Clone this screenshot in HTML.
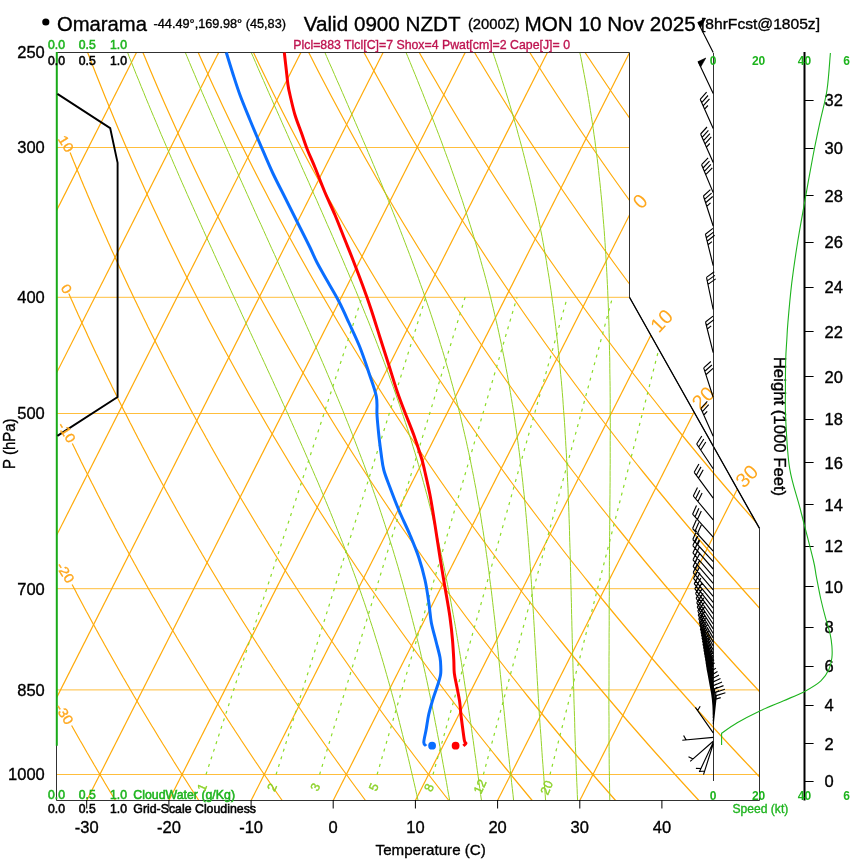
<!DOCTYPE html>
<html><head><meta charset="utf-8"><title>Omarama sounding</title>
<style>
html,body{margin:0;padding:0;background:#fff}
body{width:850px;height:860px;overflow:hidden;font-family:"Liberation Sans",sans-serif}
svg{display:block}
text{font-family:"Liberation Sans",sans-serif;stroke-width:0.35px}
.k{stroke:#000}
.ib{stroke:#ffbe3c;stroke-width:1;fill:none}
.it{stroke:#ffab0a;stroke-width:1.2;fill:none}
.da{stroke:#ffab0a;stroke-width:1.2;fill:none}
.ma{stroke:#96d228;stroke-width:1;fill:none}
.mr{stroke:#8cdc28;stroke-width:1.2;fill:none;stroke-dasharray:3 5}
</style></head><body>
<svg width="850" height="860" viewBox="0 0 850 860">
<defs><clipPath id="cp"><path d="M56.5 52.5 L629.5 52.5 L629.5 297.3 L759.5 528.4 L759.5 800.5 L56.5 800.5Z"/></clipPath></defs>
<rect width="850" height="860" fill="#fff"/>
<g clip-path="url(#cp)">
<line x1="56.5" y1="774.5" x2="759.5" y2="774.5" class="ib"/>
<line x1="56.5" y1="689.9" x2="759.5" y2="689.9" class="ib"/>
<line x1="56.5" y1="588.7" x2="759.5" y2="588.7" class="ib"/>
<line x1="56.5" y1="413.5" x2="694.9" y2="413.5" class="ib"/>
<line x1="56.5" y1="297.3" x2="629.5" y2="297.3" class="ib"/>
<line x1="56.5" y1="147.5" x2="629.5" y2="147.5" class="ib"/>
<line x1="-652.8" y1="800.5" x2="-274.3" y2="52.5" class="it"/>
<line x1="-570.6" y1="800.5" x2="-192.1" y2="52.5" class="it"/>
<line x1="-488.5" y1="800.5" x2="-110.0" y2="52.5" class="it"/>
<line x1="-406.3" y1="800.5" x2="-27.8" y2="52.5" class="it"/>
<line x1="-324.1" y1="800.5" x2="54.4" y2="52.5" class="it"/>
<line x1="-241.9" y1="800.5" x2="136.5" y2="52.5" class="it"/>
<line x1="-159.8" y1="800.5" x2="218.7" y2="52.5" class="it"/>
<line x1="-77.6" y1="800.5" x2="300.9" y2="52.5" class="it"/>
<line x1="4.6" y1="800.5" x2="383.1" y2="52.5" class="it"/>
<line x1="86.7" y1="800.5" x2="465.2" y2="52.5" class="it"/>
<line x1="168.9" y1="800.5" x2="547.4" y2="52.5" class="it"/>
<line x1="251.1" y1="800.5" x2="629.6" y2="52.5" class="it"/>
<line x1="333.2" y1="800.5" x2="711.7" y2="52.5" class="it"/>
<line x1="415.4" y1="800.5" x2="793.9" y2="52.5" class="it"/>
<line x1="497.6" y1="800.5" x2="876.1" y2="52.5" class="it"/>
<line x1="579.8" y1="800.5" x2="958.2" y2="52.5" class="it"/>
<path d="M115.5 800.5 L113.7 797.5 L111.8 794.5 L110.0 791.5 L108.2 788.5 L106.4 785.5 L104.6 782.5 L102.9 779.5 L101.1 776.5 L99.3 773.5 L97.5 770.5 L95.8 767.5 L94.0 764.5 L92.3 761.5 L90.5 758.5 L88.8 755.5 L87.0 752.5 L85.3 749.5 L83.6 746.5 L81.9 743.5 L80.1 740.5 L78.4 737.5 L76.7 734.5 L75.0 731.5 L73.3 728.5 L71.6 725.5" class="da"/>
<path d="M198.8 800.5 L196.9 797.5 L194.9 794.5 L193.0 791.5 L191.0 788.5 L189.1 785.5 L187.2 782.5 L185.3 779.5 L183.3 776.5 L181.4 773.5 L179.5 770.5 L177.6 767.5 L175.7 764.5 L173.8 761.5 L172.0 758.5 L170.1 755.5 L168.2 752.5 L166.4 749.5 L164.5 746.5 L162.6 743.5 L160.8 740.5 L158.9 737.5 L157.1 734.5 L155.3 731.5 L153.5 728.5 L151.6 725.5 L149.8 722.5 L148.0 719.5 L146.2 716.5 L144.4 713.5 L142.6 710.5 L140.8 707.5 L139.0 704.5 L137.3 701.5 L135.5 698.5 L133.7 695.5 L132.0 692.5 L130.2 689.5 L128.5 686.5 L126.7 683.5 L125.0 680.5 L123.2 677.5 L121.5 674.5 L119.8 671.5 L118.1 668.5 L116.4 665.5 L114.7 662.5 L113.0 659.5 L111.3 656.5 L109.6 653.5 L107.9 650.5 L106.2 647.5 L104.5 644.5 L102.9 641.5 L101.2 638.5 L99.5 635.5 L97.9 632.5 L96.2 629.5 L94.6 626.5 L92.9 623.5 L91.3 620.5 L89.7 617.5 L88.1 614.5 L86.4 611.5 L84.8 608.5 L83.2 605.5 L81.6 602.5 L80.0 599.5 L78.4 596.5 L76.8 593.5 L75.3 590.5 L73.7 587.5 L72.1 584.5" class="da"/>
<path d="M282.2 800.5 L280.1 797.5 L278.0 794.5 L275.9 791.5 L273.8 788.5 L271.8 785.5 L269.7 782.5 L267.7 779.5 L265.6 776.5 L263.6 773.5 L261.5 770.5 L259.5 767.5 L257.5 764.5 L255.4 761.5 L253.4 758.5 L251.4 755.5 L249.4 752.5 L247.4 749.5 L245.4 746.5 L243.4 743.5 L241.4 740.5 L239.5 737.5 L237.5 734.5 L235.5 731.5 L233.6 728.5 L231.6 725.5 L229.7 722.5 L227.7 719.5 L225.8 716.5 L223.9 713.5 L221.9 710.5 L220.0 707.5 L218.1 704.5 L216.2 701.5 L214.3 698.5 L212.4 695.5 L210.5 692.5 L208.6 689.5 L206.8 686.5 L204.9 683.5 L203.0 680.5 L201.2 677.5 L199.3 674.5 L197.4 671.5 L195.6 668.5 L193.8 665.5 L191.9 662.5 L190.1 659.5 L188.3 656.5 L186.5 653.5 L184.6 650.5 L182.8 647.5 L181.0 644.5 L179.2 641.5 L177.4 638.5 L175.7 635.5 L173.9 632.5 L172.1 629.5 L170.3 626.5 L168.6 623.5 L166.8 620.5 L165.1 617.5 L163.3 614.5 L161.6 611.5 L159.8 608.5 L158.1 605.5 L156.4 602.5 L154.7 599.5 L152.9 596.5 L151.2 593.5 L149.5 590.5 L147.8 587.5 L146.1 584.5 L144.5 581.5 L142.8 578.5 L141.1 575.5 L139.4 572.5 L137.7 569.5 L136.1 566.5 L134.4 563.5 L132.8 560.5 L131.1 557.5 L129.5 554.5 L127.9 551.5 L126.2 548.5 L124.6 545.5 L123.0 542.5 L121.4 539.5 L119.7 536.5 L118.1 533.5 L116.5 530.5 L114.9 527.5 L113.4 524.5 L111.8 521.5 L110.2 518.5 L108.6 515.5 L107.1 512.5 L105.5 509.5 L103.9 506.5 L102.4 503.5 L100.8 500.5 L99.3 497.5 L97.7 494.5 L96.2 491.5 L94.7 488.5 L93.2 485.5 L91.6 482.5 L90.1 479.5 L88.6 476.5 L87.1 473.5 L85.6 470.5 L84.1 467.5 L82.6 464.5 L81.1 461.5 L79.7 458.5 L78.2 455.5 L76.7 452.5 L75.3 449.5 L73.8 446.5 L72.3 443.5" class="da"/>
<path d="M365.5 800.5 L363.3 797.5 L361.1 794.5 L358.9 791.5 L356.6 788.5 L354.4 785.5 L352.2 782.5 L350.0 779.5 L347.9 776.5 L345.7 773.5 L343.5 770.5 L341.3 767.5 L339.2 764.5 L337.0 761.5 L334.9 758.5 L332.7 755.5 L330.6 752.5 L328.5 749.5 L326.3 746.5 L324.2 743.5 L322.1 740.5 L320.0 737.5 L317.9 734.5 L315.8 731.5 L313.7 728.5 L311.6 725.5 L309.5 722.5 L307.5 719.5 L305.4 716.5 L303.3 713.5 L301.3 710.5 L299.2 707.5 L297.2 704.5 L295.1 701.5 L293.1 698.5 L291.1 695.5 L289.1 692.5 L287.1 689.5 L285.1 686.5 L283.0 683.5 L281.1 680.5 L279.1 677.5 L277.1 674.5 L275.1 671.5 L273.1 668.5 L271.2 665.5 L269.2 662.5 L267.2 659.5 L265.3 656.5 L263.3 653.5 L261.4 650.5 L259.5 647.5 L257.5 644.5 L255.6 641.5 L253.7 638.5 L251.8 635.5 L249.9 632.5 L248.0 629.5 L246.1 626.5 L244.2 623.5 L242.3 620.5 L240.4 617.5 L238.6 614.5 L236.7 611.5 L234.8 608.5 L233.0 605.5 L231.1 602.5 L229.3 599.5 L227.5 596.5 L225.6 593.5 L223.8 590.5 L222.0 587.5 L220.2 584.5 L218.4 581.5 L216.6 578.5 L214.8 575.5 L213.0 572.5 L211.2 569.5 L209.4 566.5 L207.6 563.5 L205.8 560.5 L204.1 557.5 L202.3 554.5 L200.6 551.5 L198.8 548.5 L197.1 545.5 L195.3 542.5 L193.6 539.5 L191.9 536.5 L190.1 533.5 L188.4 530.5 L186.7 527.5 L185.0 524.5 L183.3 521.5 L181.6 518.5 L179.9 515.5 L178.2 512.5 L176.5 509.5 L174.9 506.5 L173.2 503.5 L171.5 500.5 L169.9 497.5 L168.2 494.5 L166.5 491.5 L164.9 488.5 L163.3 485.5 L161.6 482.5 L160.0 479.5 L158.4 476.5 L156.8 473.5 L155.1 470.5 L153.5 467.5 L151.9 464.5 L150.3 461.5 L148.7 458.5 L147.2 455.5 L145.6 452.5 L144.0 449.5 L142.4 446.5 L140.9 443.5 L139.3 440.5 L137.7 437.5 L136.2 434.5 L134.6 431.5 L133.1 428.5 L131.6 425.5 L130.0 422.5 L128.5 419.5 L127.0 416.5 L125.5 413.5 L123.9 410.5 L122.4 407.5 L120.9 404.5 L119.4 401.5 L117.9 398.5 L116.5 395.5 L115.0 392.5 L113.5 389.5 L112.0 386.5 L110.6 383.5 L109.1 380.5 L107.6 377.5 L106.2 374.5 L104.7 371.5 L103.3 368.5 L101.9 365.5 L100.4 362.5 L99.0 359.5 L97.6 356.5 L96.1 353.5 L94.7 350.5 L93.3 347.5 L91.9 344.5 L90.5 341.5 L89.1 338.5 L87.7 335.5 L86.4 332.5 L85.0 329.5 L83.6 326.5 L82.2 323.5 L80.9 320.5 L79.5 317.5 L78.1 314.5 L76.8 311.5 L75.4 308.5 L74.1 305.5 L72.8 302.5 L71.4 299.5 L70.1 296.5 L68.8 293.5" class="da"/>
<path d="M448.9 800.5 L446.5 797.5 L444.1 794.5 L441.8 791.5 L439.4 788.5 L437.1 785.5 L434.8 782.5 L432.4 779.5 L430.1 776.5 L427.8 773.5 L425.5 770.5 L423.2 767.5 L420.9 764.5 L418.6 761.5 L416.3 758.5 L414.0 755.5 L411.8 752.5 L409.5 749.5 L407.2 746.5 L405.0 743.5 L402.7 740.5 L400.5 737.5 L398.3 734.5 L396.0 731.5 L393.8 728.5 L391.6 725.5 L389.4 722.5 L387.2 719.5 L385.0 716.5 L382.8 713.5 L380.6 710.5 L378.4 707.5 L376.3 704.5 L374.1 701.5 L371.9 698.5 L369.8 695.5 L367.6 692.5 L365.5 689.5 L363.3 686.5 L361.2 683.5 L359.1 680.5 L357.0 677.5 L354.9 674.5 L352.7 671.5 L350.6 668.5 L348.6 665.5 L346.5 662.5 L344.4 659.5 L342.3 656.5 L340.2 653.5 L338.2 650.5 L336.1 647.5 L334.1 644.5 L332.0 641.5 L330.0 638.5 L327.9 635.5 L325.9 632.5 L323.9 629.5 L321.9 626.5 L319.8 623.5 L317.8 620.5 L315.8 617.5 L313.8 614.5 L311.8 611.5 L309.9 608.5 L307.9 605.5 L305.9 602.5 L303.9 599.5 L302.0 596.5 L300.0 593.5 L298.1 590.5 L296.1 587.5 L294.2 584.5 L292.3 581.5 L290.3 578.5 L288.4 575.5 L286.5 572.5 L284.6 569.5 L282.7 566.5 L280.8 563.5 L278.9 560.5 L277.0 557.5 L275.1 554.5 L273.3 551.5 L271.4 548.5 L269.5 545.5 L267.7 542.5 L265.8 539.5 L264.0 536.5 L262.1 533.5 L260.3 530.5 L258.4 527.5 L256.6 524.5 L254.8 521.5 L253.0 518.5 L251.2 515.5 L249.4 512.5 L247.6 509.5 L245.8 506.5 L244.0 503.5 L242.2 500.5 L240.4 497.5 L238.7 494.5 L236.9 491.5 L235.1 488.5 L233.4 485.5 L231.6 482.5 L229.9 479.5 L228.1 476.5 L226.4 473.5 L224.7 470.5 L223.0 467.5 L221.2 464.5 L219.5 461.5 L217.8 458.5 L216.1 455.5 L214.4 452.5 L212.7 449.5 L211.0 446.5 L209.4 443.5 L207.7 440.5 L206.0 437.5 L204.4 434.5 L202.7 431.5 L201.0 428.5 L199.4 425.5 L197.7 422.5 L196.1 419.5 L194.5 416.5 L192.8 413.5 L191.2 410.5 L189.6 407.5 L188.0 404.5 L186.4 401.5 L184.8 398.5 L183.2 395.5 L181.6 392.5 L180.0 389.5 L178.4 386.5 L176.8 383.5 L175.3 380.5 L173.7 377.5 L172.1 374.5 L170.6 371.5 L169.0 368.5 L167.5 365.5 L166.0 362.5 L164.4 359.5 L162.9 356.5 L161.4 353.5 L159.8 350.5 L158.3 347.5 L156.8 344.5 L155.3 341.5 L153.8 338.5 L152.3 335.5 L150.8 332.5 L149.3 329.5 L147.8 326.5 L146.4 323.5 L144.9 320.5 L143.4 317.5 L142.0 314.5 L140.5 311.5 L139.1 308.5 L137.6 305.5 L136.2 302.5 L134.7 299.5 L133.3 296.5 L131.9 293.5 L130.5 290.5 L129.0 287.5 L127.6 284.5 L126.2 281.5 L124.8 278.5 L123.4 275.5 L122.0 272.5 L120.6 269.5 L119.2 266.5 L117.9 263.5 L116.5 260.5 L115.1 257.5 L113.8 254.5 L112.4 251.5 L111.0 248.5 L109.7 245.5 L108.3 242.5 L107.0 239.5 L105.7 236.5 L104.3 233.5 L103.0 230.5 L101.7 227.5 L100.4 224.5 L99.0 221.5 L97.7 218.5 L96.4 215.5 L95.1 212.5 L93.8 209.5 L92.5 206.5 L91.3 203.5 L90.0 200.5 L88.7 197.5 L87.4 194.5 L86.2 191.5 L84.9 188.5 L83.6 185.5 L82.4 182.5 L81.1 179.5 L79.9 176.5 L78.7 173.5 L77.4 170.5 L76.2 167.5 L75.0 164.5 L73.7 161.5 L72.5 158.5 L71.3 155.5 L70.1 152.5" class="da"/>
<path d="M532.2 800.5 L525.6 792.5 L519.0 784.5 L512.4 776.5 L505.9 768.5 L499.4 760.5 L493.0 752.5 L486.6 744.5 L480.2 736.5 L473.9 728.5 L467.7 720.5 L461.5 712.5 L455.3 704.5 L449.2 696.5 L443.1 688.5 L437.1 680.5 L431.1 672.5 L425.2 664.5 L419.3 656.5 L413.5 648.5 L407.7 640.5 L401.9 632.5 L396.2 624.5 L390.5 616.5 L384.9 608.5 L379.3 600.5 L373.7 592.5 L368.2 584.5 L362.8 576.5 L357.3 568.5 L352.0 560.5 L346.6 552.5 L341.3 544.5 L336.1 536.5 L330.8 528.5 L325.7 520.5 L320.5 512.5 L315.4 504.5 L310.4 496.5 L305.4 488.5 L300.4 480.5 L295.4 472.5 L290.5 464.5 L285.7 456.5 L280.9 448.5 L276.1 440.5 L271.3 432.5 L266.6 424.5 L262.0 416.5 L257.4 408.5 L252.8 400.5 L248.2 392.5 L243.7 384.5 L239.2 376.5 L234.8 368.5 L230.4 360.5 L226.0 352.5 L221.7 344.5 L217.4 336.5 L213.2 328.5 L208.9 320.5 L204.8 312.5 L200.6 304.5 L196.5 296.5 L192.4 288.5 L188.4 280.5 L184.4 272.5 L180.4 264.5 L176.5 256.5 L172.6 248.5 L168.7 240.5 L164.9 232.5 L161.1 224.5 L157.4 216.5 L153.6 208.5 L149.9 200.5 L146.3 192.5 L142.7 184.5 L139.1 176.5 L135.5 168.5 L132.0 160.5 L128.5 152.5 L125.0 144.5 L121.6 136.5 L118.2 128.5 L114.9 120.5 L111.6 112.5 L108.3 104.5 L105.0 96.5 L101.8 88.5 L98.6 80.5 L95.4 72.5 L92.3 64.5 L89.2 56.5 L87.6 52.5" class="da"/>
<path d="M615.6 800.5 L608.6 792.5 L601.6 784.5 L594.6 776.5 L587.8 768.5 L580.9 760.5 L574.1 752.5 L567.4 744.5 L560.7 736.5 L554.1 728.5 L547.5 720.5 L540.9 712.5 L534.4 704.5 L527.9 696.5 L521.5 688.5 L515.2 680.5 L508.8 672.5 L502.6 664.5 L496.3 656.5 L490.1 648.5 L484.0 640.5 L477.9 632.5 L471.9 624.5 L465.8 616.5 L459.9 608.5 L454.0 600.5 L448.1 592.5 L442.3 584.5 L436.5 576.5 L430.7 568.5 L425.0 560.5 L419.4 552.5 L413.7 544.5 L408.2 536.5 L402.6 528.5 L397.1 520.5 L391.7 512.5 L386.3 504.5 L380.9 496.5 L375.6 488.5 L370.3 480.5 L365.1 472.5 L359.9 464.5 L354.7 456.5 L349.6 448.5 L344.5 440.5 L339.4 432.5 L334.4 424.5 L329.5 416.5 L324.6 408.5 L319.7 400.5 L314.8 392.5 L310.0 384.5 L305.3 376.5 L300.5 368.5 L295.8 360.5 L291.2 352.5 L286.6 344.5 L282.0 336.5 L277.5 328.5 L273.0 320.5 L268.5 312.5 L264.1 304.5 L259.7 296.5 L255.4 288.5 L251.0 280.5 L246.8 272.5 L242.5 264.5 L238.3 256.5 L234.1 248.5 L230.0 240.5 L225.9 232.5 L221.9 224.5 L217.8 216.5 L213.8 208.5 L209.9 200.5 L206.0 192.5 L202.1 184.5 L198.2 176.5 L194.4 168.5 L190.6 160.5 L186.9 152.5 L183.2 144.5 L179.5 136.5 L175.9 128.5 L172.3 120.5 L168.7 112.5 L165.1 104.5 L161.6 96.5 L158.1 88.5 L154.7 80.5 L151.3 72.5 L147.9 64.5 L144.6 56.5 L142.9 52.5" class="da"/>
<path d="M698.9 800.5 L691.5 792.5 L684.2 784.5 L676.9 776.5 L669.7 768.5 L662.5 760.5 L655.3 752.5 L648.2 744.5 L641.2 736.5 L634.2 728.5 L627.2 720.5 L620.3 712.5 L613.5 704.5 L606.7 696.5 L599.9 688.5 L593.2 680.5 L586.5 672.5 L579.9 664.5 L573.3 656.5 L566.8 648.5 L560.3 640.5 L553.9 632.5 L547.5 624.5 L541.2 616.5 L534.9 608.5 L528.6 600.5 L522.4 592.5 L516.3 584.5 L510.2 576.5 L504.1 568.5 L498.1 560.5 L492.1 552.5 L486.2 544.5 L480.3 536.5 L474.4 528.5 L468.6 520.5 L462.8 512.5 L457.1 504.5 L451.4 496.5 L445.8 488.5 L440.2 480.5 L434.7 472.5 L429.2 464.5 L423.7 456.5 L418.3 448.5 L412.9 440.5 L407.6 432.5 L402.3 424.5 L397.0 416.5 L391.8 408.5 L386.6 400.5 L381.5 392.5 L376.4 384.5 L371.3 376.5 L366.3 368.5 L361.3 360.5 L356.4 352.5 L351.5 344.5 L346.6 336.5 L341.8 328.5 L337.0 320.5 L332.3 312.5 L327.6 304.5 L322.9 296.5 L318.3 288.5 L313.7 280.5 L309.1 272.5 L304.6 264.5 L300.1 256.5 L295.7 248.5 L291.3 240.5 L286.9 232.5 L282.6 224.5 L278.3 216.5 L274.1 208.5 L269.8 200.5 L265.7 192.5 L261.5 184.5 L257.4 176.5 L253.3 168.5 L249.3 160.5 L245.3 152.5 L241.3 144.5 L237.4 136.5 L233.5 128.5 L229.6 120.5 L225.8 112.5 L222.0 104.5 L218.3 96.5 L214.5 88.5 L210.8 80.5 L207.2 72.5 L203.6 64.5 L200.0 56.5 L198.2 52.5" class="da"/>
<path d="M782.3 800.5 L774.5 792.5 L766.8 784.5 L759.2 776.5 L751.6 768.5 L744.0 760.5 L736.5 752.5 L729.0 744.5 L721.6 736.5 L714.3 728.5 L707.0 720.5 L699.7 712.5 L692.5 704.5 L685.4 696.5 L678.3 688.5 L671.2 680.5 L664.2 672.5 L657.3 664.5 L650.4 656.5 L643.5 648.5 L636.7 640.5 L629.9 632.5 L623.2 624.5 L616.5 616.5 L609.9 608.5 L603.3 600.5 L596.8 592.5 L590.3 584.5 L583.9 576.5 L577.5 568.5 L571.1 560.5 L564.8 552.5 L558.6 544.5 L552.4 536.5 L546.2 528.5 L540.1 520.5 L534.0 512.5 L528.0 504.5 L522.0 496.5 L516.0 488.5 L510.1 480.5 L504.3 472.5 L498.5 464.5 L492.7 456.5 L487.0 448.5 L481.3 440.5 L475.7 432.5 L470.1 424.5 L464.5 416.5 L459.0 408.5 L453.5 400.5 L448.1 392.5 L442.7 384.5 L437.3 376.5 L432.0 368.5 L426.8 360.5 L421.5 352.5 L416.4 344.5 L411.2 336.5 L406.1 328.5 L401.1 320.5 L396.0 312.5 L391.0 304.5 L386.1 296.5 L381.2 288.5 L376.3 280.5 L371.5 272.5 L366.7 264.5 L362.0 256.5 L357.3 248.5 L352.6 240.5 L348.0 232.5 L343.4 224.5 L338.8 216.5 L334.3 208.5 L329.8 200.5 L325.4 192.5 L320.9 184.5 L316.6 176.5 L312.2 168.5 L307.9 160.5 L303.7 152.5 L299.5 144.5 L295.3 136.5 L291.1 128.5 L287.0 120.5 L282.9 112.5 L278.9 104.5 L274.9 96.5 L270.9 88.5 L267.0 80.5 L263.1 72.5 L259.2 64.5 L255.4 56.5 L253.5 52.5" class="da"/>
<path d="M865.6 800.5 L857.5 792.5 L849.4 784.5 L841.4 776.5 L833.5 768.5 L825.5 760.5 L817.7 752.5 L809.9 744.5 L802.1 736.5 L794.4 728.5 L786.8 720.5 L779.2 712.5 L771.6 704.5 L764.1 696.5 L756.7 688.5 L749.3 680.5 L741.9 672.5 L734.6 664.5 L727.4 656.5 L720.2 648.5 L713.0 640.5 L705.9 632.5 L698.9 624.5 L691.9 616.5 L684.9 608.5 L678.0 600.5 L671.2 592.5 L664.3 584.5 L657.6 576.5 L650.9 568.5 L644.2 560.5 L637.6 552.5 L631.0 544.5 L624.5 536.5 L618.0 528.5 L611.6 520.5 L605.2 512.5 L598.8 504.5 L592.5 496.5 L586.3 488.5 L580.1 480.5 L573.9 472.5 L567.8 464.5 L561.7 456.5 L555.7 448.5 L549.7 440.5 L543.8 432.5 L537.9 424.5 L532.0 416.5 L526.2 408.5 L520.4 400.5 L514.7 392.5 L509.0 384.5 L503.4 376.5 L497.8 368.5 L492.2 360.5 L486.7 352.5 L481.2 344.5 L475.8 336.5 L470.4 328.5 L465.1 320.5 L459.8 312.5 L454.5 304.5 L449.3 296.5 L444.1 288.5 L439.0 280.5 L433.9 272.5 L428.8 264.5 L423.8 256.5 L418.8 248.5 L413.9 240.5 L409.0 232.5 L404.1 224.5 L399.3 216.5 L394.5 208.5 L389.8 200.5 L385.0 192.5 L380.4 184.5 L375.7 176.5 L371.2 168.5 L366.6 160.5 L362.1 152.5 L357.6 144.5 L353.2 136.5 L348.8 128.5 L344.4 120.5 L340.1 112.5 L335.8 104.5 L331.5 96.5 L327.3 88.5 L323.1 80.5 L318.9 72.5 L314.8 64.5 L310.8 56.5 L308.7 52.5" class="da"/>
<path d="M949.0 800.5 L940.5 792.5 L932.1 784.5 L923.7 776.5 L915.4 768.5 L907.1 760.5 L898.9 752.5 L890.7 744.5 L882.6 736.5 L874.5 728.5 L866.5 720.5 L858.6 712.5 L850.7 704.5 L842.8 696.5 L835.0 688.5 L827.3 680.5 L819.6 672.5 L812.0 664.5 L804.4 656.5 L796.9 648.5 L789.4 640.5 L781.9 632.5 L774.5 624.5 L767.2 616.5 L759.9 608.5 L752.7 600.5 L745.5 592.5 L738.4 584.5 L731.3 576.5 L724.2 568.5 L717.3 560.5 L710.3 552.5 L703.4 544.5 L696.6 536.5 L689.8 528.5 L683.0 520.5 L676.3 512.5 L669.7 504.5 L663.1 496.5 L656.5 488.5 L650.0 480.5 L643.5 472.5 L637.1 464.5 L630.7 456.5 L624.4 448.5 L618.1 440.5 L611.9 432.5 L605.7 424.5 L599.5 416.5 L593.4 408.5 L587.3 400.5 L581.3 392.5 L575.3 384.5 L569.4 376.5 L563.5 368.5 L557.7 360.5 L551.9 352.5 L546.1 344.5 L540.4 336.5 L534.8 328.5 L529.1 320.5 L523.5 312.5 L518.0 304.5 L512.5 296.5 L507.0 288.5 L501.6 280.5 L496.2 272.5 L490.9 264.5 L485.6 256.5 L480.4 248.5 L475.2 240.5 L470.0 232.5 L464.9 224.5 L459.8 216.5 L454.7 208.5 L449.7 200.5 L444.7 192.5 L439.8 184.5 L434.9 176.5 L430.1 168.5 L425.3 160.5 L420.5 152.5 L415.7 144.5 L411.0 136.5 L406.4 128.5 L401.8 120.5 L397.2 112.5 L392.6 104.5 L388.1 96.5 L383.7 88.5 L379.2 80.5 L374.8 72.5 L370.5 64.5 L366.2 56.5 L364.0 52.5" class="da"/>
<path d="M1032.3 800.5 L1023.5 792.5 L1014.7 784.5 L1005.9 776.5 L997.3 768.5 L988.6 760.5 L980.1 752.5 L971.5 744.5 L963.1 736.5 L954.7 728.5 L946.3 720.5 L938.0 712.5 L929.8 704.5 L921.6 696.5 L913.4 688.5 L905.3 680.5 L897.3 672.5 L889.3 664.5 L881.4 656.5 L873.5 648.5 L865.7 640.5 L857.9 632.5 L850.2 624.5 L842.6 616.5 L834.9 608.5 L827.4 600.5 L819.9 592.5 L812.4 584.5 L805.0 576.5 L797.6 568.5 L790.3 560.5 L783.1 552.5 L775.8 544.5 L768.7 536.5 L761.6 528.5 L754.5 520.5 L747.5 512.5 L740.5 504.5 L733.6 496.5 L726.7 488.5 L719.9 480.5 L713.1 472.5 L706.4 464.5 L699.7 456.5 L693.1 448.5 L686.5 440.5 L680.0 432.5 L673.5 424.5 L667.0 416.5 L660.6 408.5 L654.3 400.5 L647.9 392.5 L641.7 384.5 L635.5 376.5 L629.3 368.5 L623.2 360.5 L617.1 352.5 L611.0 344.5 L605.0 336.5 L599.1 328.5 L593.2 320.5 L587.3 312.5 L581.5 304.5 L575.7 296.5 L570.0 288.5 L564.3 280.5 L558.6 272.5 L553.0 264.5 L547.4 256.5 L541.9 248.5 L536.4 240.5 L531.0 232.5 L525.6 224.5 L520.3 216.5 L514.9 208.5 L509.7 200.5 L504.4 192.5 L499.2 184.5 L494.1 176.5 L489.0 168.5 L483.9 160.5 L478.9 152.5 L473.9 144.5 L468.9 136.5 L464.0 128.5 L459.1 120.5 L454.3 112.5 L449.5 104.5 L444.8 96.5 L440.0 88.5 L435.4 80.5 L430.7 72.5 L426.1 64.5 L421.5 56.5 L419.3 52.5" class="da"/>
<path d="M1115.7 800.5 L1106.5 792.5 L1097.3 784.5 L1088.2 776.5 L1079.2 768.5 L1070.2 760.5 L1061.2 752.5 L1052.4 744.5 L1043.5 736.5 L1034.8 728.5 L1026.1 720.5 L1017.4 712.5 L1008.8 704.5 L1000.3 696.5 L991.8 688.5 L983.4 680.5 L975.0 672.5 L966.7 664.5 L958.4 656.5 L950.2 648.5 L942.0 640.5 L933.9 632.5 L925.9 624.5 L917.9 616.5 L909.9 608.5 L902.1 600.5 L894.2 592.5 L886.4 584.5 L878.7 576.5 L871.0 568.5 L863.4 560.5 L855.8 552.5 L848.3 544.5 L840.8 536.5 L833.3 528.5 L826.0 520.5 L818.6 512.5 L811.4 504.5 L804.1 496.5 L796.9 488.5 L789.8 480.5 L782.7 472.5 L775.7 464.5 L768.7 456.5 L761.8 448.5 L754.9 440.5 L748.1 432.5 L741.3 424.5 L734.5 416.5 L727.8 408.5 L721.2 400.5 L714.6 392.5 L708.0 384.5 L701.5 376.5 L695.0 368.5 L688.6 360.5 L682.2 352.5 L675.9 344.5 L669.6 336.5 L663.4 328.5 L657.2 320.5 L651.1 312.5 L645.0 304.5 L638.9 296.5 L632.9 288.5 L626.9 280.5 L621.0 272.5 L615.1 264.5 L609.3 256.5 L603.5 248.5 L597.7 240.5 L592.0 232.5 L586.4 224.5 L580.7 216.5 L575.2 208.5 L569.6 200.5 L564.1 192.5 L558.7 184.5 L553.3 176.5 L547.9 168.5 L542.6 160.5 L537.3 152.5 L532.0 144.5 L526.8 136.5 L521.6 128.5 L516.5 120.5 L511.4 112.5 L506.4 104.5 L501.4 96.5 L496.4 88.5 L491.5 80.5 L486.6 72.5 L481.8 64.5 L476.9 56.5 L474.6 52.5" class="da"/>
<path d="M1199.0 800.5 L1189.5 792.5 L1179.9 784.5 L1170.5 776.5 L1161.1 768.5 L1151.7 760.5 L1142.4 752.5 L1133.2 744.5 L1124.0 736.5 L1114.9 728.5 L1105.8 720.5 L1096.8 712.5 L1087.9 704.5 L1079.0 696.5 L1070.2 688.5 L1061.4 680.5 L1052.7 672.5 L1044.0 664.5 L1035.4 656.5 L1026.9 648.5 L1018.4 640.5 L1009.9 632.5 L1001.6 624.5 L993.2 616.5 L985.0 608.5 L976.7 600.5 L968.6 592.5 L960.5 584.5 L952.4 576.5 L944.4 568.5 L936.4 560.5 L928.5 552.5 L920.7 544.5 L912.9 536.5 L905.1 528.5 L897.4 520.5 L889.8 512.5 L882.2 504.5 L874.7 496.5 L867.2 488.5 L859.7 480.5 L852.3 472.5 L845.0 464.5 L837.7 456.5 L830.5 448.5 L823.3 440.5 L816.2 432.5 L809.1 424.5 L802.0 416.5 L795.0 408.5 L788.1 400.5 L781.2 392.5 L774.3 384.5 L767.5 376.5 L760.8 368.5 L754.1 360.5 L747.4 352.5 L740.8 344.5 L734.2 336.5 L727.7 328.5 L721.2 320.5 L714.8 312.5 L708.4 304.5 L702.1 296.5 L695.8 288.5 L689.6 280.5 L683.4 272.5 L677.2 264.5 L671.1 256.5 L665.0 248.5 L659.0 240.5 L653.0 232.5 L647.1 224.5 L641.2 216.5 L635.4 208.5 L629.6 200.5 L623.8 192.5 L618.1 184.5 L612.4 176.5 L606.8 168.5 L601.2 160.5 L595.7 152.5 L590.2 144.5 L584.7 136.5 L579.3 128.5 L573.9 120.5 L568.6 112.5 L563.3 104.5 L558.0 96.5 L552.8 88.5 L547.6 80.5 L542.5 72.5 L537.4 64.5 L532.3 56.5 L529.8 52.5" class="da"/>
<path d="M1282.4 800.5 L1272.4 792.5 L1262.6 784.5 L1252.7 776.5 L1243.0 768.5 L1233.2 760.5 L1223.6 752.5 L1214.0 744.5 L1204.5 736.5 L1195.0 728.5 L1185.6 720.5 L1176.3 712.5 L1167.0 704.5 L1157.7 696.5 L1148.6 688.5 L1139.4 680.5 L1130.4 672.5 L1121.4 664.5 L1112.4 656.5 L1103.6 648.5 L1094.7 640.5 L1086.0 632.5 L1077.2 624.5 L1068.6 616.5 L1060.0 608.5 L1051.4 600.5 L1042.9 592.5 L1034.5 584.5 L1026.1 576.5 L1017.8 568.5 L1009.5 560.5 L1001.3 552.5 L993.1 544.5 L985.0 536.5 L976.9 528.5 L968.9 520.5 L961.0 512.5 L953.1 504.5 L945.2 496.5 L937.4 488.5 L929.7 480.5 L922.0 472.5 L914.3 464.5 L906.7 456.5 L899.2 448.5 L891.7 440.5 L884.3 432.5 L876.9 424.5 L869.5 416.5 L862.2 408.5 L855.0 400.5 L847.8 392.5 L840.7 384.5 L833.6 376.5 L826.5 368.5 L819.5 360.5 L812.6 352.5 L805.7 344.5 L798.8 336.5 L792.0 328.5 L785.3 320.5 L778.6 312.5 L771.9 304.5 L765.3 296.5 L758.7 288.5 L752.2 280.5 L745.7 272.5 L739.3 264.5 L732.9 256.5 L726.6 248.5 L720.3 240.5 L714.1 232.5 L707.9 224.5 L701.7 216.5 L695.6 208.5 L689.5 200.5 L683.5 192.5 L677.5 184.5 L671.6 176.5 L665.7 168.5 L659.9 160.5 L654.1 152.5 L648.3 144.5 L642.6 136.5 L636.9 128.5 L631.3 120.5 L625.7 112.5 L620.1 104.5 L614.6 96.5 L609.2 88.5 L603.8 80.5 L598.4 72.5 L593.0 64.5 L587.7 56.5 L585.1 52.5" class="da"/>
<path d="M1365.7 800.5 L1355.4 792.5 L1345.2 784.5 L1335.0 776.5 L1324.9 768.5 L1314.8 760.5 L1304.8 752.5 L1294.8 744.5 L1285.0 736.5 L1275.1 728.5 L1265.4 720.5 L1255.7 712.5 L1246.0 704.5 L1236.5 696.5 L1226.9 688.5 L1217.5 680.5 L1208.1 672.5 L1198.7 664.5 L1189.5 656.5 L1180.2 648.5 L1171.1 640.5 L1162.0 632.5 L1152.9 624.5 L1143.9 616.5 L1135.0 608.5 L1126.1 600.5 L1117.3 592.5 L1108.5 584.5 L1099.8 576.5 L1091.1 568.5 L1082.6 560.5 L1074.0 552.5 L1065.5 544.5 L1057.1 536.5 L1048.7 528.5 L1040.4 520.5 L1032.1 512.5 L1023.9 504.5 L1015.7 496.5 L1007.6 488.5 L999.6 480.5 L991.6 472.5 L983.6 464.5 L975.7 456.5 L967.9 448.5 L960.1 440.5 L952.4 432.5 L944.7 424.5 L937.0 416.5 L929.4 408.5 L921.9 400.5 L914.4 392.5 L907.0 384.5 L899.6 376.5 L892.3 368.5 L885.0 360.5 L877.8 352.5 L870.6 344.5 L863.4 336.5 L856.4 328.5 L849.3 320.5 L842.3 312.5 L835.4 304.5 L828.5 296.5 L821.7 288.5 L814.9 280.5 L808.1 272.5 L801.4 264.5 L794.8 256.5 L788.1 248.5 L781.6 240.5 L775.1 232.5 L768.6 224.5 L762.2 216.5 L755.8 208.5 L749.5 200.5 L743.2 192.5 L737.0 184.5 L730.8 176.5 L724.6 168.5 L718.5 160.5 L712.5 152.5 L706.4 144.5 L700.5 136.5 L694.5 128.5 L688.7 120.5 L682.8 112.5 L677.0 104.5 L671.3 96.5 L665.5 88.5 L659.9 80.5 L654.3 72.5 L648.7 64.5 L643.1 56.5 L640.4 52.5" class="da"/>
<path d="M1449.1 800.5 L1438.4 792.5 L1427.8 784.5 L1417.2 776.5 L1406.8 768.5 L1396.3 760.5 L1386.0 752.5 L1375.7 744.5 L1365.4 736.5 L1355.3 728.5 L1345.1 720.5 L1335.1 712.5 L1325.1 704.5 L1315.2 696.5 L1305.3 688.5 L1295.5 680.5 L1285.8 672.5 L1276.1 664.5 L1266.5 656.5 L1256.9 648.5 L1247.4 640.5 L1238.0 632.5 L1228.6 624.5 L1219.3 616.5 L1210.0 608.5 L1200.8 600.5 L1191.6 592.5 L1182.5 584.5 L1173.5 576.5 L1164.5 568.5 L1155.6 560.5 L1146.7 552.5 L1137.9 544.5 L1129.2 536.5 L1120.5 528.5 L1111.9 520.5 L1103.3 512.5 L1094.7 504.5 L1086.3 496.5 L1077.9 488.5 L1069.5 480.5 L1061.2 472.5 L1052.9 464.5 L1044.7 456.5 L1036.6 448.5 L1028.5 440.5 L1020.5 432.5 L1012.5 424.5 L1004.5 416.5 L996.7 408.5 L988.8 400.5 L981.0 392.5 L973.3 384.5 L965.6 376.5 L958.0 368.5 L950.5 360.5 L942.9 352.5 L935.5 344.5 L928.0 336.5 L920.7 328.5 L913.4 320.5 L906.1 312.5 L898.9 304.5 L891.7 296.5 L884.6 288.5 L877.5 280.5 L870.5 272.5 L863.5 264.5 L856.6 256.5 L849.7 248.5 L842.9 240.5 L836.1 232.5 L829.4 224.5 L822.7 216.5 L816.0 208.5 L809.4 200.5 L802.9 192.5 L796.4 184.5 L789.9 176.5 L783.5 168.5 L777.2 160.5 L770.8 152.5 L764.6 144.5 L758.3 136.5 L752.2 128.5 L746.0 120.5 L739.9 112.5 L733.9 104.5 L727.9 96.5 L721.9 88.5 L716.0 80.5 L710.1 72.5 L704.3 64.5 L698.5 56.5 L695.7 52.5" class="da"/>
<path d="M1532.4 800.5 L1521.4 792.5 L1510.4 784.5 L1499.5 776.5 L1488.7 768.5 L1477.9 760.5 L1467.2 752.5 L1456.5 744.5 L1445.9 736.5 L1435.4 728.5 L1424.9 720.5 L1414.5 712.5 L1404.2 704.5 L1393.9 696.5 L1383.7 688.5 L1373.6 680.5 L1363.5 672.5 L1353.4 664.5 L1343.5 656.5 L1333.6 648.5 L1323.7 640.5 L1314.0 632.5 L1304.3 624.5 L1294.6 616.5 L1285.0 608.5 L1275.5 600.5 L1266.0 592.5 L1256.6 584.5 L1247.2 576.5 L1237.9 568.5 L1228.7 560.5 L1219.5 552.5 L1210.4 544.5 L1201.3 536.5 L1192.3 528.5 L1183.3 520.5 L1174.4 512.5 L1165.6 504.5 L1156.8 496.5 L1148.1 488.5 L1139.4 480.5 L1130.8 472.5 L1122.2 464.5 L1113.7 456.5 L1105.3 448.5 L1096.9 440.5 L1088.6 432.5 L1080.3 424.5 L1072.0 416.5 L1063.9 408.5 L1055.7 400.5 L1047.7 392.5 L1039.6 384.5 L1031.7 376.5 L1023.8 368.5 L1015.9 360.5 L1008.1 352.5 L1000.4 344.5 L992.6 336.5 L985.0 328.5 L977.4 320.5 L969.8 312.5 L962.3 304.5 L954.9 296.5 L947.5 288.5 L940.2 280.5 L932.9 272.5 L925.6 264.5 L918.4 256.5 L911.3 248.5 L904.2 240.5 L897.1 232.5 L890.1 224.5 L883.2 216.5 L876.2 208.5 L869.4 200.5 L862.6 192.5 L855.8 184.5 L849.1 176.5 L842.4 168.5 L835.8 160.5 L829.2 152.5 L822.7 144.5 L816.2 136.5 L809.8 128.5 L803.4 120.5 L797.1 112.5 L790.8 104.5 L784.5 96.5 L778.3 88.5 L772.1 80.5 L766.0 72.5 L760.0 64.5 L753.9 56.5 L750.9 52.5" class="da"/>
<path d="M1615.8 800.5 L1604.4 792.5 L1593.0 784.5 L1581.8 776.5 L1570.6 768.5 L1559.4 760.5 L1548.3 752.5 L1537.3 744.5 L1526.4 736.5 L1515.5 728.5 L1504.7 720.5 L1493.9 712.5 L1483.3 704.5 L1472.6 696.5 L1462.1 688.5 L1451.6 680.5 L1441.2 672.5 L1430.8 664.5 L1420.5 656.5 L1410.3 648.5 L1400.1 640.5 L1390.0 632.5 L1379.9 624.5 L1369.9 616.5 L1360.0 608.5 L1350.1 600.5 L1340.3 592.5 L1330.6 584.5 L1320.9 576.5 L1311.3 568.5 L1301.7 560.5 L1292.2 552.5 L1282.8 544.5 L1273.4 536.5 L1264.1 528.5 L1254.8 520.5 L1245.6 512.5 L1236.4 504.5 L1227.3 496.5 L1218.3 488.5 L1209.3 480.5 L1200.4 472.5 L1191.5 464.5 L1182.7 456.5 L1174.0 448.5 L1165.3 440.5 L1156.7 432.5 L1148.1 424.5 L1139.5 416.5 L1131.1 408.5 L1122.7 400.5 L1114.3 392.5 L1106.0 384.5 L1097.7 376.5 L1089.5 368.5 L1081.4 360.5 L1073.3 352.5 L1065.2 344.5 L1057.3 336.5 L1049.3 328.5 L1041.4 320.5 L1033.6 312.5 L1025.8 304.5 L1018.1 296.5 L1010.4 288.5 L1002.8 280.5 L995.2 272.5 L987.7 264.5 L980.2 256.5 L972.8 248.5 L965.4 240.5 L958.1 232.5 L950.9 224.5 L943.6 216.5 L936.5 208.5 L929.3 200.5 L922.3 192.5 L915.2 184.5 L908.3 176.5 L901.3 168.5 L894.5 160.5 L887.6 152.5 L880.9 144.5 L874.1 136.5 L867.4 128.5 L860.8 120.5 L854.2 112.5 L847.6 104.5 L841.1 96.5 L834.7 88.5 L828.3 80.5 L821.9 72.5 L815.6 64.5 L809.3 56.5 L806.2 52.5" class="da"/>
<path d="M1699.2 800.5 L1687.4 792.5 L1675.7 784.5 L1664.0 776.5 L1652.5 768.5 L1641.0 760.5 L1629.5 752.5 L1618.2 744.5 L1606.9 736.5 L1595.6 728.5 L1584.5 720.5 L1573.4 712.5 L1562.3 704.5 L1551.4 696.5 L1540.5 688.5 L1529.6 680.5 L1518.9 672.5 L1508.2 664.5 L1497.5 656.5 L1486.9 648.5 L1476.4 640.5 L1466.0 632.5 L1455.6 624.5 L1445.3 616.5 L1435.0 608.5 L1424.8 600.5 L1414.7 592.5 L1404.6 584.5 L1394.6 576.5 L1384.7 568.5 L1374.8 560.5 L1365.0 552.5 L1355.2 544.5 L1345.5 536.5 L1335.9 528.5 L1326.3 520.5 L1316.8 512.5 L1307.3 504.5 L1297.9 496.5 L1288.5 488.5 L1279.3 480.5 L1270.0 472.5 L1260.9 464.5 L1251.7 456.5 L1242.7 448.5 L1233.7 440.5 L1224.8 432.5 L1215.9 424.5 L1207.0 416.5 L1198.3 408.5 L1189.6 400.5 L1180.9 392.5 L1172.3 384.5 L1163.8 376.5 L1155.3 368.5 L1146.8 360.5 L1138.5 352.5 L1130.1 344.5 L1121.9 336.5 L1113.6 328.5 L1105.5 320.5 L1097.4 312.5 L1089.3 304.5 L1081.3 296.5 L1073.3 288.5 L1065.4 280.5 L1057.6 272.5 L1049.8 264.5 L1042.1 256.5 L1034.4 248.5 L1026.7 240.5 L1019.1 232.5 L1011.6 224.5 L1004.1 216.5 L996.7 208.5 L989.3 200.5 L982.0 192.5 L974.7 184.5 L967.4 176.5 L960.3 168.5 L953.1 160.5 L946.0 152.5 L939.0 144.5 L932.0 136.5 L925.1 128.5 L918.2 120.5 L911.3 112.5 L904.5 104.5 L897.8 96.5 L891.1 88.5 L884.4 80.5 L877.8 72.5 L871.2 64.5 L864.7 56.5 L861.5 52.5" class="da"/>
<path d="M1782.5 800.5 L1770.4 792.5 L1758.3 784.5 L1746.3 776.5 L1734.4 768.5 L1722.5 760.5 L1710.7 752.5 L1699.0 744.5 L1687.3 736.5 L1675.7 728.5 L1664.2 720.5 L1652.8 712.5 L1641.4 704.5 L1630.1 696.5 L1618.8 688.5 L1607.7 680.5 L1596.6 672.5 L1585.5 664.5 L1574.5 656.5 L1563.6 648.5 L1552.8 640.5 L1542.0 632.5 L1531.3 624.5 L1520.6 616.5 L1510.0 608.5 L1499.5 600.5 L1489.1 592.5 L1478.7 584.5 L1468.3 576.5 L1458.1 568.5 L1447.8 560.5 L1437.7 552.5 L1427.6 544.5 L1417.6 536.5 L1407.6 528.5 L1397.7 520.5 L1387.9 512.5 L1378.1 504.5 L1368.4 496.5 L1358.8 488.5 L1349.2 480.5 L1339.6 472.5 L1330.2 464.5 L1320.7 456.5 L1311.4 448.5 L1302.1 440.5 L1292.9 432.5 L1283.7 424.5 L1274.6 416.5 L1265.5 408.5 L1256.5 400.5 L1247.5 392.5 L1238.6 384.5 L1229.8 376.5 L1221.0 368.5 L1212.3 360.5 L1203.6 352.5 L1195.0 344.5 L1186.5 336.5 L1178.0 328.5 L1169.5 320.5 L1161.1 312.5 L1152.8 304.5 L1144.5 296.5 L1136.3 288.5 L1128.1 280.5 L1120.0 272.5 L1111.9 264.5 L1103.9 256.5 L1095.9 248.5 L1088.0 240.5 L1080.2 232.5 L1072.4 224.5 L1064.6 216.5 L1056.9 208.5 L1049.3 200.5 L1041.7 192.5 L1034.1 184.5 L1026.6 176.5 L1019.2 168.5 L1011.8 160.5 L1004.4 152.5 L997.1 144.5 L989.9 136.5 L982.7 128.5 L975.5 120.5 L968.4 112.5 L961.4 104.5 L954.4 96.5 L947.4 88.5 L940.5 80.5 L933.7 72.5 L926.9 64.5 L920.1 56.5 L916.8 52.5" class="da"/>
<path d="M418.1 800.5 L416.7 794.5 L415.4 788.5 L414.0 782.5 L412.6 776.5 L411.2 770.5 L409.8 764.5 L408.4 758.5 L406.9 752.5 L405.5 746.5 L404.0 740.5 L402.5 734.5 L401.0 728.5 L399.5 722.5 L398.0 716.5 L396.4 710.5 L394.9 704.5 L393.3 698.5 L391.6 692.5 L390.0 686.5 L388.3 680.5 L386.6 674.5 L384.9 668.5 L383.2 662.5 L381.4 656.5 L379.6 650.5 L377.8 644.5 L375.9 638.5 L374.1 632.5 L372.2 626.5 L370.2 620.5 L368.3 614.5 L366.3 608.5 L364.3 602.5 L362.2 596.5 L360.1 590.5 L358.0 584.5 L355.9 578.5 L353.7 572.5 L351.5 566.5 L349.3 560.5 L347.1 554.5 L344.8 548.5 L342.5 542.5 L340.1 536.5 L337.7 530.5 L335.3 524.5 L332.9 518.5 L330.5 512.5 L328.0 506.5 L325.5 500.5 L323.0 494.5 L320.5 488.5 L318.0 482.5 L315.4 476.5 L312.8 470.5 L310.2 464.5 L307.6 458.5 L305.0 452.5 L302.4 446.5 L299.7 440.5 L297.0 434.5 L294.4 428.5 L291.7 422.5 L289.0 416.5 L286.3 410.5 L283.5 404.5 L280.8 398.5 L278.1 392.5 L275.3 386.5 L272.6 380.5 L269.8 374.5 L267.0 368.5 L264.3 362.5 L261.5 356.5 L258.7 350.5 L256.0 344.5 L253.2 338.5 L250.4 332.5 L247.6 326.5 L244.8 320.5 L242.0 314.5 L239.3 308.5 L236.5 302.5 L233.7 296.5 L230.9 290.5 L228.2 284.5 L225.4 278.5 L222.7 272.5 L219.9 266.5 L217.1 260.5 L214.4 254.5 L211.7 248.5 L208.9 242.5 L206.2 236.5 L203.5 230.5 L200.8 224.5 L198.1 218.5 L195.4 212.5 L192.7 206.5 L190.0 200.5 L187.3 194.5 L184.7 188.5 L182.0 182.5 L179.4 176.5 L176.8 170.5 L174.2 164.5 L171.6 158.5 L169.0 152.5 L166.4 146.5 L163.8 140.5 L161.2 134.5 L158.7 128.5 L156.2 122.5 L153.6 116.5 L151.1 110.5 L148.6 104.5 L146.1 98.5 L143.7 92.5 L141.2 86.5 L138.8 80.5 L136.3 74.5 L133.9 68.5 L131.5 62.5 L129.1 56.5 L127.6 52.5" class="ma"/>
<path d="M449.7 800.5 L448.6 794.5 L447.5 788.5 L446.5 782.5 L445.4 776.5 L444.3 770.5 L443.2 764.5 L442.1 758.5 L441.0 752.5 L439.9 746.5 L438.8 740.5 L437.6 734.5 L436.5 728.5 L435.3 722.5 L434.2 716.5 L433.0 710.5 L431.8 704.5 L430.6 698.5 L429.3 692.5 L428.1 686.5 L426.8 680.5 L425.5 674.5 L424.2 668.5 L422.8 662.5 L421.4 656.5 L420.0 650.5 L418.6 644.5 L417.1 638.5 L415.7 632.5 L414.2 626.5 L412.6 620.5 L411.1 614.5 L409.5 608.5 L407.9 602.5 L406.3 596.5 L404.7 590.5 L403.0 584.5 L401.3 578.5 L399.6 572.5 L397.9 566.5 L396.1 560.5 L394.3 554.5 L392.5 548.5 L390.6 542.5 L388.7 536.5 L386.8 530.5 L384.9 524.5 L382.9 518.5 L380.9 512.5 L378.9 506.5 L376.8 500.5 L374.7 494.5 L372.6 488.5 L370.5 482.5 L368.3 476.5 L366.1 470.5 L363.9 464.5 L361.6 458.5 L359.3 452.5 L357.0 446.5 L354.7 440.5 L352.4 434.5 L350.0 428.5 L347.6 422.5 L345.2 416.5 L342.8 410.5 L340.3 404.5 L337.8 398.5 L335.3 392.5 L332.8 386.5 L330.3 380.5 L327.7 374.5 L325.2 368.5 L322.6 362.5 L320.0 356.5 L317.4 350.5 L314.8 344.5 L312.1 338.5 L309.5 332.5 L306.8 326.5 L304.2 320.5 L301.5 314.5 L298.8 308.5 L296.1 302.5 L293.4 296.5 L290.7 290.5 L288.0 284.5 L285.3 278.5 L282.6 272.5 L279.9 266.5 L277.2 260.5 L274.5 254.5 L271.7 248.5 L269.0 242.5 L266.3 236.5 L263.6 230.5 L260.9 224.5 L258.1 218.5 L255.4 212.5 L252.7 206.5 L250.0 200.5 L247.3 194.5 L244.6 188.5 L241.9 182.5 L239.2 176.5 L236.5 170.5 L233.8 164.5 L231.2 158.5 L228.5 152.5 L225.8 146.5 L223.2 140.5 L220.5 134.5 L217.9 128.5 L215.3 122.5 L212.6 116.5 L210.0 110.5 L207.4 104.5 L204.8 98.5 L202.2 92.5 L199.7 86.5 L197.1 80.5 L194.6 74.5 L192.0 68.5 L189.5 62.5 L187.0 56.5 L185.3 52.5" class="ma"/>
<path d="M481.5 800.5 L480.6 794.5 L479.8 788.5 L479.0 782.5 L478.2 776.5 L477.3 770.5 L476.5 764.5 L475.7 758.5 L474.8 752.5 L474.0 746.5 L473.2 740.5 L472.3 734.5 L471.5 728.5 L470.6 722.5 L469.7 716.5 L468.8 710.5 L467.9 704.5 L467.0 698.5 L466.1 692.5 L465.1 686.5 L464.2 680.5 L463.3 674.5 L462.3 668.5 L461.4 662.5 L460.4 656.5 L459.4 650.5 L458.4 644.5 L457.4 638.5 L456.4 632.5 L455.4 626.5 L454.3 620.5 L453.2 614.5 L452.1 608.5 L451.0 602.5 L449.9 596.5 L448.7 590.5 L447.5 584.5 L446.3 578.5 L445.1 572.5 L443.9 566.5 L442.6 560.5 L441.3 554.5 L440.0 548.5 L438.6 542.5 L437.3 536.5 L435.8 530.5 L434.4 524.5 L432.9 518.5 L431.5 512.5 L429.9 506.5 L428.4 500.5 L426.8 494.5 L425.2 488.5 L423.5 482.5 L421.9 476.5 L420.2 470.5 L418.4 464.5 L416.7 458.5 L414.9 452.5 L413.0 446.5 L411.2 440.5 L409.3 434.5 L407.4 428.5 L405.4 422.5 L403.4 416.5 L401.4 410.5 L399.4 404.5 L397.3 398.5 L395.2 392.5 L393.1 386.5 L390.9 380.5 L388.7 374.5 L386.5 368.5 L384.3 362.5 L382.0 356.5 L379.7 350.5 L377.4 344.5 L375.1 338.5 L372.7 332.5 L370.4 326.5 L368.0 320.5 L365.5 314.5 L363.1 308.5 L360.6 302.5 L358.2 296.5 L355.7 290.5 L353.2 284.5 L350.6 278.5 L348.1 272.5 L345.5 266.5 L343.0 260.5 L340.4 254.5 L337.8 248.5 L335.2 242.5 L332.6 236.5 L330.0 230.5 L327.3 224.5 L324.7 218.5 L322.1 212.5 L319.4 206.5 L316.8 200.5 L314.1 194.5 L311.4 188.5 L308.8 182.5 L306.1 176.5 L303.4 170.5 L300.7 164.5 L298.1 158.5 L295.4 152.5 L292.7 146.5 L290.0 140.5 L287.4 134.5 L284.7 128.5 L282.0 122.5 L279.4 116.5 L276.7 110.5 L274.0 104.5 L271.4 98.5 L268.7 92.5 L266.1 86.5 L263.5 80.5 L260.8 74.5 L258.2 68.5 L255.6 62.5 L253.0 56.5 L251.2 52.5" class="ma"/>
<path d="M513.6 800.5 L513.0 794.5 L512.3 788.5 L511.6 782.5 L511.0 776.5 L510.3 770.5 L509.6 764.5 L509.0 758.5 L508.3 752.5 L507.7 746.5 L507.1 740.5 L506.4 734.5 L505.8 728.5 L505.2 722.5 L504.6 716.5 L504.0 710.5 L503.4 704.5 L502.8 698.5 L502.2 692.5 L501.6 686.5 L501.0 680.5 L500.4 674.5 L499.8 668.5 L499.2 662.5 L498.6 656.5 L498.0 650.5 L497.4 644.5 L496.7 638.5 L496.1 632.5 L495.4 626.5 L494.8 620.5 L494.1 614.5 L493.4 608.5 L492.7 602.5 L492.0 596.5 L491.3 590.5 L490.5 584.5 L489.7 578.5 L489.0 572.5 L488.2 566.5 L487.4 560.5 L486.5 554.5 L485.7 548.5 L484.8 542.5 L483.9 536.5 L483.0 530.5 L482.0 524.5 L481.1 518.5 L480.1 512.5 L479.1 506.5 L478.0 500.5 L476.9 494.5 L475.9 488.5 L474.7 482.5 L473.6 476.5 L472.4 470.5 L471.2 464.5 L470.0 458.5 L468.7 452.5 L467.4 446.5 L466.1 440.5 L464.7 434.5 L463.3 428.5 L461.9 422.5 L460.5 416.5 L459.0 410.5 L457.5 404.5 L456.0 398.5 L454.4 392.5 L452.8 386.5 L451.1 380.5 L449.5 374.5 L447.8 368.5 L446.0 362.5 L444.3 356.5 L442.5 350.5 L440.6 344.5 L438.8 338.5 L436.9 332.5 L434.9 326.5 L433.0 320.5 L431.0 314.5 L429.0 308.5 L426.9 302.5 L424.9 296.5 L422.8 290.5 L420.6 284.5 L418.5 278.5 L416.3 272.5 L414.1 266.5 L411.9 260.5 L409.6 254.5 L407.3 248.5 L405.0 242.5 L402.7 236.5 L400.4 230.5 L398.0 224.5 L395.6 218.5 L393.2 212.5 L390.8 206.5 L388.4 200.5 L385.9 194.5 L383.4 188.5 L380.9 182.5 L378.4 176.5 L375.9 170.5 L373.4 164.5 L370.9 158.5 L368.3 152.5 L365.8 146.5 L363.2 140.5 L360.6 134.5 L358.0 128.5 L355.4 122.5 L352.8 116.5 L350.2 110.5 L347.6 104.5 L345.0 98.5 L342.4 92.5 L339.8 86.5 L337.1 80.5 L334.5 74.5 L331.9 68.5 L329.2 62.5 L326.6 56.5 L324.9 52.5" class="ma"/>
<path d="M545.6 800.5 L545.2 794.5 L544.7 788.5 L544.2 782.5 L543.8 776.5 L543.3 770.5 L542.9 764.5 L542.4 758.5 L542.0 752.5 L541.6 746.5 L541.2 740.5 L540.8 734.5 L540.3 728.5 L539.9 722.5 L539.5 716.5 L539.1 710.5 L538.8 704.5 L538.4 698.5 L538.0 692.5 L537.7 686.5 L537.3 680.5 L537.0 674.5 L536.6 668.5 L536.3 662.5 L535.9 656.5 L535.6 650.5 L535.2 644.5 L534.9 638.5 L534.5 632.5 L534.2 626.5 L533.8 620.5 L533.5 614.5 L533.1 608.5 L532.7 602.5 L532.3 596.5 L531.9 590.5 L531.5 584.5 L531.1 578.5 L530.7 572.5 L530.3 566.5 L529.8 560.5 L529.4 554.5 L528.9 548.5 L528.4 542.5 L528.0 536.5 L527.4 530.5 L526.9 524.5 L526.4 518.5 L525.8 512.5 L525.3 506.5 L524.7 500.5 L524.1 494.5 L523.4 488.5 L522.8 482.5 L522.1 476.5 L521.5 470.5 L520.7 464.5 L520.0 458.5 L519.3 452.5 L518.5 446.5 L517.7 440.5 L516.9 434.5 L516.0 428.5 L515.2 422.5 L514.3 416.5 L513.4 410.5 L512.4 404.5 L511.4 398.5 L510.4 392.5 L509.4 386.5 L508.3 380.5 L507.3 374.5 L506.1 368.5 L505.0 362.5 L503.8 356.5 L502.6 350.5 L501.4 344.5 L500.1 338.5 L498.8 332.5 L497.5 326.5 L496.1 320.5 L494.7 314.5 L493.3 308.5 L491.8 302.5 L490.4 296.5 L488.8 290.5 L487.3 284.5 L485.7 278.5 L484.1 272.5 L482.4 266.5 L480.7 260.5 L479.0 254.5 L477.3 248.5 L475.5 242.5 L473.7 236.5 L471.9 230.5 L470.0 224.5 L468.1 218.5 L466.2 212.5 L464.2 206.5 L462.3 200.5 L460.2 194.5 L458.2 188.5 L456.1 182.5 L454.0 176.5 L451.9 170.5 L449.8 164.5 L447.6 158.5 L445.4 152.5 L443.2 146.5 L441.0 140.5 L438.7 134.5 L436.4 128.5 L434.1 122.5 L431.8 116.5 L429.5 110.5 L427.1 104.5 L424.7 98.5 L422.4 92.5 L419.9 86.5 L417.5 80.5 L415.1 74.5 L412.6 68.5 L410.2 62.5 L407.7 56.5 L406.0 52.5" class="ma"/>
<path d="M577.6 800.5 L577.3 794.5 L577.1 788.5 L576.8 782.5 L576.6 776.5 L576.3 770.5 L576.1 764.5 L575.9 758.5 L575.7 752.5 L575.4 746.5 L575.2 740.5 L575.0 734.5 L574.8 728.5 L574.7 722.5 L574.5 716.5 L574.3 710.5 L574.1 704.5 L573.9 698.5 L573.8 692.5 L573.6 686.5 L573.4 680.5 L573.2 674.5 L573.0 668.5 L572.9 662.5 L572.7 656.5 L572.5 650.5 L572.4 644.5 L572.2 638.5 L572.1 632.5 L571.9 626.5 L571.8 620.5 L571.6 614.5 L571.5 608.5 L571.4 602.5 L571.2 596.5 L571.1 590.5 L570.9 584.5 L570.8 578.5 L570.6 572.5 L570.5 566.5 L570.3 560.5 L570.2 554.5 L570.0 548.5 L569.8 542.5 L569.6 536.5 L569.5 530.5 L569.3 524.5 L569.1 518.5 L568.9 512.5 L568.7 506.5 L568.4 500.5 L568.2 494.5 L568.0 488.5 L567.7 482.5 L567.4 476.5 L567.2 470.5 L566.9 464.5 L566.6 458.5 L566.3 452.5 L565.9 446.5 L565.6 440.5 L565.2 434.5 L564.9 428.5 L564.5 422.5 L564.1 416.5 L563.6 410.5 L563.2 404.5 L562.8 398.5 L562.3 392.5 L561.8 386.5 L561.3 380.5 L560.7 374.5 L560.2 368.5 L559.6 362.5 L559.0 356.5 L558.4 350.5 L557.8 344.5 L557.1 338.5 L556.4 332.5 L555.7 326.5 L555.0 320.5 L554.2 314.5 L553.5 308.5 L552.6 302.5 L551.8 296.5 L551.0 290.5 L550.1 284.5 L549.2 278.5 L548.2 272.5 L547.2 266.5 L546.3 260.5 L545.2 254.5 L544.2 248.5 L543.1 242.5 L542.0 236.5 L540.8 230.5 L539.7 224.5 L538.5 218.5 L537.2 212.5 L536.0 206.5 L534.7 200.5 L533.3 194.5 L532.0 188.5 L530.6 182.5 L529.2 176.5 L527.7 170.5 L526.2 164.5 L524.7 158.5 L523.2 152.5 L521.6 146.5 L520.0 140.5 L518.3 134.5 L516.7 128.5 L515.0 122.5 L513.2 116.5 L511.5 110.5 L509.7 104.5 L507.9 98.5 L506.0 92.5 L504.1 86.5 L502.2 80.5 L500.3 74.5 L498.3 68.5 L496.3 62.5 L494.3 56.5 L493.0 52.5" class="ma"/>
<path d="M609.8 800.5 L609.7 794.5 L609.6 788.5 L609.5 782.5 L609.4 776.5 L609.3 770.5 L609.2 764.5 L609.2 758.5 L609.1 752.5 L609.1 746.5 L609.0 740.5 L609.0 734.5 L609.0 728.5 L609.0 722.5 L609.0 716.5 L608.9 710.5 L608.9 704.5 L608.9 698.5 L608.9 692.5 L609.0 686.5 L609.0 680.5 L609.0 674.5 L609.0 668.5 L609.0 662.5 L609.0 656.5 L609.1 650.5 L609.1 644.5 L609.1 638.5 L609.1 632.5 L609.2 626.5 L609.2 620.5 L609.2 614.5 L609.2 608.5 L609.2 602.5 L609.3 596.5 L609.3 590.5 L609.3 584.5 L609.3 578.5 L609.3 572.5 L609.4 566.5 L609.4 560.5 L609.5 554.5 L609.5 548.5 L609.6 542.5 L609.6 536.5 L609.7 530.5 L609.7 524.5 L609.8 518.5 L609.8 512.5 L609.9 506.5 L609.9 500.5 L610.0 494.5 L610.0 488.5 L610.1 482.5 L610.1 476.5 L610.1 470.5 L610.2 464.5 L610.2 458.5 L610.2 452.5 L610.2 446.5 L610.2 440.5 L610.3 434.5 L610.3 428.5 L610.3 422.5 L610.2 416.5 L610.2 410.5 L610.2 404.5 L610.2 398.5 L610.1 392.5 L610.1 386.5 L610.0 380.5 L609.9 374.5 L609.8 368.5 L609.8 362.5 L609.7 356.5 L609.5 350.5 L609.4 344.5 L609.3 338.5 L609.1 332.5 L609.0 326.5 L608.8 320.5 L608.6 314.5 L608.4 308.5 L608.2 302.5 L607.9 296.5 L607.7 290.5 L607.4 284.5 L607.1 278.5 L606.8 272.5 L606.5 266.5 L606.1 260.5 L605.8 254.5 L605.4 248.5 L605.0 242.5 L604.6 236.5 L604.2 230.5 L603.7 224.5 L603.2 218.5 L602.7 212.5 L602.2 206.5 L601.7 200.5 L601.1 194.5 L600.5 188.5 L599.9 182.5 L599.2 176.5 L598.6 170.5 L597.9 164.5 L597.2 158.5 L596.4 152.5 L595.6 146.5 L594.9 140.5 L594.0 134.5 L593.2 128.5 L592.3 122.5 L591.4 116.5 L590.4 110.5 L589.5 104.5 L588.5 98.5 L587.5 92.5 L586.4 86.5 L585.3 80.5 L584.2 74.5 L583.0 68.5 L581.9 62.5 L580.7 56.5 L579.8 52.5" class="ma"/>
<path d="M206.0 774.5 L362.0 297.3" class="mr"/>
<path d="M276.1 774.5 L425.7 297.3" class="mr"/>
<path d="M319.6 774.5 L465.1 297.3" class="mr"/>
<path d="M377.1 774.5 L517.0 297.3" class="mr"/>
<path d="M433.0 774.5 L567.3 297.3" class="mr"/>
<path d="M483.4 774.5 L612.5 297.3" class="mr"/>
<path d="M550.0 774.5 L672.1 297.3" class="mr"/>
</g>
<path d="M56.5 52.5 L629.5 52.5 L629.5 297.3 L759.5 528.4 L759.5 800.5 L56.5 800.5Z" fill="none" stroke="#1a1a1a" stroke-width="0.9"/>
<line x1="629.5" y1="297.3" x2="759.5" y2="528.4" stroke="#000" stroke-width="1.3"/>
<path d="M226.3 52.5 C227.3 55.8 230.2 65.4 232.5 72.5 C234.8 79.6 237.1 87.1 240.0 95.0 C242.9 102.9 246.7 111.9 250.0 120.0 C253.3 128.1 256.2 135.1 260.0 143.8 C263.8 152.6 268.3 163.6 272.5 172.5 C276.7 181.4 280.8 189.2 285.0 197.5 C289.2 205.8 293.3 214.2 297.5 222.5 C301.7 230.8 306.8 240.8 310.0 247.5 C313.2 254.2 314.1 256.9 317.0 262.5 C319.9 268.1 323.9 274.8 327.5 281.3 C331.1 287.8 335.2 294.4 338.8 301.3 C342.4 308.2 345.3 314.8 348.8 322.5 C352.3 330.2 356.7 339.2 360.0 347.5 C363.3 355.8 366.1 364.4 368.8 372.5 C371.5 380.6 374.9 389.2 376.3 396.3 C377.7 403.4 376.6 408.6 377.0 415.0 C377.4 421.4 378.1 428.3 378.8 435.0 C379.5 441.7 380.5 449.2 381.3 455.0 C382.1 460.8 382.4 464.6 383.8 470.0 C385.2 475.4 387.5 480.8 390.0 487.5 C392.5 494.2 395.5 502.1 398.8 510.0 C402.1 517.9 406.7 527.1 410.0 535.0 C413.3 542.9 416.3 550.0 418.8 557.5 C421.3 565.0 423.3 572.5 425.0 580.0 C426.7 587.5 427.8 595.4 428.8 602.5 C429.9 609.6 430.1 615.8 431.3 622.5 C432.6 629.2 434.9 636.7 436.3 642.5 C437.8 648.3 439.2 653.2 440.0 657.5 C440.8 661.8 440.7 665.1 440.8 668.0 C440.9 670.9 441.0 672.2 440.5 675.0 C440.0 677.8 439.1 680.7 437.8 684.8 C436.5 688.9 434.3 694.6 432.8 699.6 C431.3 704.6 429.8 709.5 428.7 714.5 C427.6 719.5 427.0 724.6 426.2 729.3 C425.4 734.0 423.8 739.7 423.8 742.5 C423.8 745.3 425.8 745.3 426.2 745.9" fill="none" stroke="#0a6eff" stroke-width="3" stroke-linejoin="round"/>
<path d="M284.3 52.5 C284.6 55.4 285.7 64.6 286.3 70.0 C286.9 75.4 287.4 80.8 288.0 85.0 C288.6 89.2 288.8 90.0 290.0 95.0 C291.2 100.0 293.1 108.8 295.0 115.0 C296.9 121.2 299.2 126.7 301.3 132.5 C303.4 138.3 305.2 144.2 307.5 150.0 C309.8 155.8 312.1 160.4 315.0 167.5 C317.9 174.6 321.7 184.6 325.0 192.5 C328.3 200.4 331.7 207.1 335.0 215.0 C338.3 222.9 342.0 232.5 345.0 240.0 C348.0 247.5 350.1 252.5 353.0 260.0 C355.9 267.5 359.4 276.7 362.5 285.0 C365.6 293.3 368.4 301.2 371.3 310.0 C374.2 318.8 377.1 328.3 380.0 337.5 C382.9 346.7 385.9 355.8 388.8 365.0 C391.7 374.2 394.8 384.6 397.5 392.5 C400.2 400.4 402.3 405.4 405.0 412.5 C407.7 419.6 411.1 427.5 413.8 435.0 C416.5 442.5 419.5 451.7 421.3 457.5 C423.1 463.3 423.1 463.8 424.5 470.0 C425.9 476.2 428.2 485.8 430.0 495.0 C431.8 504.2 433.3 514.6 435.0 525.0 C436.7 535.4 438.3 547.1 440.0 557.5 C441.7 567.9 443.3 577.5 445.0 587.5 C446.7 597.5 448.8 608.8 450.0 617.5 C451.2 626.2 451.9 632.9 452.5 640.0 C453.1 647.1 453.5 654.5 453.8 660.0 C454.1 665.5 453.8 668.8 454.3 673.2 C454.8 677.6 455.9 681.7 456.8 686.4 C457.7 691.1 458.9 696.6 459.6 701.3 C460.3 706.0 460.4 710.1 460.9 714.5 C461.4 718.9 462.0 723.3 462.6 727.7 C463.2 732.1 463.9 738.3 464.5 740.9 C465.1 743.5 466.1 742.6 465.9 743.4 C465.7 744.2 463.8 745.5 463.4 745.9" fill="none" stroke="#ff0000" stroke-width="3" stroke-linejoin="round"/>
<circle cx="432.1" cy="745.7" r="3.9" fill="#0a6eff"/>
<circle cx="455.6" cy="745.7" r="3.9" fill="#ff0000"/>
<line x1="56.8" y1="52" x2="56.8" y2="745.7" stroke="#18aa18" stroke-width="2"/>
<path d="M57.4 93.9 L110.2 128.2 L117.6 162.9 L117.6 397 L57.4 435.9" fill="none" stroke="#000" stroke-width="1.9" stroke-linejoin="miter"/>
<text x="48.0" y="49.2" font-size="12.2" fill="#1eb41e" stroke="#1eb41e" style="stroke-width:0.55px">0.0</text>
<text x="48.0" y="64.6" font-size="12.2" class="k" style="stroke-width:0.55px">0.0</text>
<text x="48.0" y="799.3" font-size="12.2" fill="#1eb41e" stroke="#1eb41e" style="stroke-width:0.55px">0.0</text>
<text x="48.0" y="813.3" font-size="12.2" class="k" style="stroke-width:0.55px">0.0</text>
<text x="78.8" y="49.2" font-size="12.2" fill="#1eb41e" stroke="#1eb41e" style="stroke-width:0.55px">0.5</text>
<text x="78.8" y="64.6" font-size="12.2" class="k" style="stroke-width:0.55px">0.5</text>
<text x="78.8" y="799.3" font-size="12.2" fill="#1eb41e" stroke="#1eb41e" style="stroke-width:0.55px">0.5</text>
<text x="78.8" y="813.3" font-size="12.2" class="k" style="stroke-width:0.55px">0.5</text>
<text x="110.0" y="49.2" font-size="12.2" fill="#1eb41e" stroke="#1eb41e" style="stroke-width:0.55px">1.0</text>
<text x="110.0" y="64.6" font-size="12.2" class="k" style="stroke-width:0.55px">1.0</text>
<text x="110.0" y="799.3" font-size="12.2" fill="#1eb41e" stroke="#1eb41e" style="stroke-width:0.55px">1.0</text>
<text x="110.0" y="813.3" font-size="12.2" class="k" style="stroke-width:0.55px">1.0</text>
<text x="133.3" y="799.3" font-size="12.6" fill="#1eb41e" stroke="#1eb41e" textLength="101.7" lengthAdjust="spacingAndGlyphs" style="stroke-width:0.55px">CloudWater (g/Kg)</text>
<text x="133.3" y="813.3" font-size="12.6" class="k" textLength="122.7" lengthAdjust="spacingAndGlyphs" style="stroke-width:0.55px">Grid-Scale Cloudiness</text>
<text x="44.8" y="58.4" font-size="16.5" text-anchor="end" class="k">250</text>
<text x="44.8" y="153.4" font-size="16.5" text-anchor="end" class="k">300</text>
<text x="44.8" y="303.2" font-size="16.5" text-anchor="end" class="k">400</text>
<text x="44.8" y="419.4" font-size="16.5" text-anchor="end" class="k">500</text>
<text x="44.8" y="594.6" font-size="16.5" text-anchor="end" class="k">700</text>
<text x="44.8" y="695.8" font-size="16.5" text-anchor="end" class="k">850</text>
<text x="44.8" y="780.4" font-size="16.5" text-anchor="end" class="k">1000</text>
<text x="14.9" y="443.7" font-size="16.6" text-anchor="middle" class="k" transform="rotate(-90.0 14.9 443.7)" textLength="50.5" lengthAdjust="spacingAndGlyphs">P (hPa)</text>
<line x1="86.7" y1="800" x2="86.7" y2="808.5" stroke="#000" stroke-width="1"/>
<text x="86.7" y="833.4" font-size="16.5" text-anchor="middle" class="k">-30</text>
<line x1="168.9" y1="800" x2="168.9" y2="808.5" stroke="#000" stroke-width="1"/>
<text x="168.9" y="833.4" font-size="16.5" text-anchor="middle" class="k">-20</text>
<line x1="251.1" y1="800" x2="251.1" y2="808.5" stroke="#000" stroke-width="1"/>
<text x="251.1" y="833.4" font-size="16.5" text-anchor="middle" class="k">-10</text>
<line x1="333.2" y1="800" x2="333.2" y2="808.5" stroke="#000" stroke-width="1"/>
<text x="333.2" y="833.4" font-size="16.5" text-anchor="middle" class="k">0</text>
<line x1="415.4" y1="800" x2="415.4" y2="808.5" stroke="#000" stroke-width="1"/>
<text x="415.4" y="833.4" font-size="16.5" text-anchor="middle" class="k">10</text>
<line x1="497.6" y1="800" x2="497.6" y2="808.5" stroke="#000" stroke-width="1"/>
<text x="497.6" y="833.4" font-size="16.5" text-anchor="middle" class="k">20</text>
<line x1="579.8" y1="800" x2="579.8" y2="808.5" stroke="#000" stroke-width="1"/>
<text x="579.8" y="833.4" font-size="16.5" text-anchor="middle" class="k">30</text>
<line x1="661.9" y1="800" x2="661.9" y2="808.5" stroke="#000" stroke-width="1"/>
<text x="661.9" y="833.4" font-size="16.5" text-anchor="middle" class="k">40</text>
<text x="430.7" y="854.5" font-size="15.2" text-anchor="middle" class="k" textLength="110.2" lengthAdjust="spacingAndGlyphs">Temperature (C)</text>
<circle cx="45.8" cy="22" r="3.6" fill="#000"/>
<text x="57.0" y="30.7" font-size="20.3" class="k" textLength="90.0" lengthAdjust="spacingAndGlyphs">Omarama</text>
<text x="153.5" y="27.5" font-size="13.0" class="k" textLength="132.5" lengthAdjust="spacingAndGlyphs">-44.49°,169.98° (45,83)</text>
<text x="303.8" y="30.7" font-size="20.5" class="k" textLength="156.8" lengthAdjust="spacingAndGlyphs">Valid 0900 NZDT</text>
<text x="467.9" y="28.5" font-size="14.0" class="k" textLength="51.7" lengthAdjust="spacingAndGlyphs">(2000Z)</text>
<text x="524.5" y="30.7" font-size="20.5" class="k" textLength="171.2" lengthAdjust="spacingAndGlyphs">MON 10 Nov 2025</text>
<text x="701.0" y="28.5" font-size="15.0" class="k" textLength="119.0" lengthAdjust="spacingAndGlyphs">[8hrFcst@1805z]</text>
<text x="293.3" y="48.8" font-size="12.6" fill="#be1450" stroke="#be1450" textLength="276.7" lengthAdjust="spacingAndGlyphs">Plcl=883 Tlcl[C]=7 Shox=4 Pwat[cm]=2 Cape[J]= 0</text>
<line x1="713.5" y1="53" x2="713.5" y2="781" stroke="#1a1a1a" stroke-width="0.9"/>
<line x1="804.5" y1="52" x2="804.5" y2="800.5" stroke="#000" stroke-width="2"/>
<line x1="804.4" y1="781.5" x2="813.6" y2="781.5" stroke="#000" stroke-width="1"/>
<text x="824.6" y="787.1" font-size="16.5" class="k">0</text>
<line x1="804.4" y1="743.5" x2="813.6" y2="743.5" stroke="#000" stroke-width="1"/>
<text x="824.6" y="749.6" font-size="16.5" class="k">2</text>
<line x1="804.4" y1="705.5" x2="813.6" y2="705.5" stroke="#000" stroke-width="1"/>
<text x="824.6" y="711.2" font-size="16.5" class="k">4</text>
<line x1="804.4" y1="666.5" x2="813.6" y2="666.5" stroke="#000" stroke-width="1"/>
<text x="824.6" y="672.4" font-size="16.5" class="k">6</text>
<line x1="804.4" y1="627.5" x2="813.6" y2="627.5" stroke="#000" stroke-width="1"/>
<text x="824.6" y="632.9" font-size="16.5" class="k">8</text>
<line x1="804.4" y1="586.5" x2="813.6" y2="586.5" stroke="#000" stroke-width="1"/>
<text x="824.6" y="592.6" font-size="16.5" class="k">10</text>
<line x1="804.4" y1="546.5" x2="813.6" y2="546.5" stroke="#000" stroke-width="1"/>
<text x="824.6" y="551.9" font-size="16.5" class="k">12</text>
<line x1="804.4" y1="504.5" x2="813.6" y2="504.5" stroke="#000" stroke-width="1"/>
<text x="824.6" y="510.5" font-size="16.5" class="k">14</text>
<line x1="804.4" y1="462.5" x2="813.6" y2="462.5" stroke="#000" stroke-width="1"/>
<text x="824.6" y="468.5" font-size="16.5" class="k">16</text>
<line x1="804.4" y1="419.5" x2="813.6" y2="419.5" stroke="#000" stroke-width="1"/>
<text x="824.6" y="425.4" font-size="16.5" class="k">18</text>
<line x1="804.4" y1="376.5" x2="813.6" y2="376.5" stroke="#000" stroke-width="1"/>
<text x="824.6" y="382.5" font-size="16.5" class="k">20</text>
<line x1="804.4" y1="331.5" x2="813.6" y2="331.5" stroke="#000" stroke-width="1"/>
<text x="824.6" y="337.6" font-size="16.5" class="k">22</text>
<line x1="804.4" y1="287.5" x2="813.6" y2="287.5" stroke="#000" stroke-width="1"/>
<text x="824.6" y="293.2" font-size="16.5" class="k">24</text>
<line x1="804.4" y1="242.5" x2="813.6" y2="242.5" stroke="#000" stroke-width="1"/>
<text x="824.6" y="247.9" font-size="16.5" class="k">26</text>
<line x1="804.4" y1="195.5" x2="813.6" y2="195.5" stroke="#000" stroke-width="1"/>
<text x="824.6" y="201.6" font-size="16.5" class="k">28</text>
<line x1="804.4" y1="148.5" x2="813.6" y2="148.5" stroke="#000" stroke-width="1"/>
<text x="824.6" y="153.9" font-size="16.5" class="k">30</text>
<line x1="804.4" y1="100.5" x2="813.6" y2="100.5" stroke="#000" stroke-width="1"/>
<text x="824.6" y="105.9" font-size="16.5" class="k">32</text>
<text x="773.8" y="426.5" font-size="16.7" text-anchor="middle" class="k" transform="rotate(90.0 773.8 426.5)" textLength="139.4" lengthAdjust="spacingAndGlyphs">Height (1000 Feet)</text>
<text x="713.0" y="65.3" font-size="12.0" text-anchor="middle" fill="#1eb41e" stroke="#1eb41e" font-weight="bold" style="stroke-width:0">0</text>
<text x="713.0" y="799.5" font-size="12.0" text-anchor="middle" fill="#1eb41e" stroke="#1eb41e" font-weight="bold" style="stroke-width:0">0</text>
<text x="758.6" y="65.3" font-size="12.0" text-anchor="middle" fill="#1eb41e" stroke="#1eb41e" font-weight="bold" style="stroke-width:0">20</text>
<text x="758.6" y="799.5" font-size="12.0" text-anchor="middle" fill="#1eb41e" stroke="#1eb41e" font-weight="bold" style="stroke-width:0">20</text>
<text x="804.4" y="65.3" font-size="12.0" text-anchor="middle" fill="#1eb41e" stroke="#1eb41e" font-weight="bold" style="stroke-width:0">40</text>
<text x="804.4" y="799.5" font-size="12.0" text-anchor="middle" fill="#1eb41e" stroke="#1eb41e" font-weight="bold" style="stroke-width:0">40</text>
<text x="850.0" y="65.3" font-size="12.0" text-anchor="middle" fill="#1eb41e" stroke="#1eb41e" font-weight="bold" style="stroke-width:0">60</text>
<text x="850.0" y="799.5" font-size="12.0" text-anchor="middle" fill="#1eb41e" stroke="#1eb41e" font-weight="bold" style="stroke-width:0">60</text>
<text x="732.4" y="813.3" font-size="12.1" fill="#1eb41e" stroke="#1eb41e" textLength="55.9" lengthAdjust="spacingAndGlyphs">Speed (kt)</text>
<path d="M721.6 744.9 L721.6 733.3 C724.2 731.5 730.9 726.5 737.2 722.8 C743.5 719.1 751.5 714.9 759.3 711.2 C767.0 707.5 776.1 704.0 783.7 700.7 C791.3 697.4 798.5 694.7 804.7 691.4 C810.9 688.1 816.9 684.6 820.9 680.9 C824.9 677.2 827.2 673.2 829.0 669.3 C830.8 665.4 831.4 661.6 831.9 657.7 C832.4 653.8 832.2 649.9 831.9 646.0 C831.6 642.1 831.2 639.0 830.2 634.4 C829.2 629.8 827.2 623.9 825.6 618.1 C824.0 612.3 822.5 606.5 820.9 599.5 C819.3 592.5 817.6 582.9 816.3 576.3 C815.0 569.7 815.9 571.0 813.3 560.0 C810.7 549.0 804.4 525.2 800.5 510.0 C796.6 494.8 792.2 483.8 789.7 468.6 C787.2 453.4 786.4 432.1 785.7 419.0 C785.0 405.9 785.4 399.8 785.4 390.0 C785.4 380.2 785.5 368.3 785.7 360.0 C785.9 351.7 786.4 346.2 786.8 340.0 C787.2 333.8 787.1 332.0 787.9 322.6 C788.7 313.2 790.1 297.0 791.7 283.4 C793.4 269.8 795.6 254.6 797.8 241.0 C800.0 227.4 802.2 215.9 804.7 201.8 C807.2 187.7 810.3 170.1 812.9 156.5 C815.5 142.9 818.0 131.3 820.4 120.2 C822.8 109.1 825.3 101.2 827.0 90.0 C828.7 78.8 829.8 59.2 830.4 53.0" fill="none" stroke="#1eb41e" stroke-width="1.1" stroke-linejoin="miter"/>
<text x="66.0" y="143.6" font-size="13.5" fill="#ffa81e" stroke="#ffa81e" text-anchor="middle" textLength="17.0" lengthAdjust="spacingAndGlyphs" transform="rotate(58 66.0 143.6)" dy="4.8">10</text>
<text x="66.6" y="288.8" font-size="13.5" fill="#ffa81e" stroke="#ffa81e" text-anchor="middle" textLength="8.5" lengthAdjust="spacingAndGlyphs" transform="rotate(58 66.6 288.8)" dy="4.8">0</text>
<text x="66.8" y="432.3" font-size="13.5" fill="#ffa81e" stroke="#ffa81e" text-anchor="middle" textLength="21.5" lengthAdjust="spacingAndGlyphs" transform="rotate(58 66.8 432.3)" dy="4.8">-10</text>
<text x="65.5" y="572.6" font-size="13.5" fill="#ffa81e" stroke="#ffa81e" text-anchor="middle" textLength="21.5" lengthAdjust="spacingAndGlyphs" transform="rotate(58 65.5 572.6)" dy="4.8">-20</text>
<text x="64.5" y="714.0" font-size="13.5" fill="#ffa81e" stroke="#ffa81e" text-anchor="middle" textLength="21.5" lengthAdjust="spacingAndGlyphs" transform="rotate(58 64.5 714.0)" dy="4.8">-30</text>
<text x="639.9" y="201.0" font-size="20" fill="#ffa81e" text-anchor="middle" textLength="11.0" lengthAdjust="spacingAndGlyphs" transform="rotate(-46 639.9 201.0)" dy="7.2">0</text>
<text x="661.3" y="320.6" font-size="20" fill="#ffa81e" text-anchor="middle" textLength="22.5" lengthAdjust="spacingAndGlyphs" transform="rotate(-46 661.3 320.6)" dy="7.2">10</text>
<text x="703.0" y="397.7" font-size="20" fill="#ffa81e" text-anchor="middle" textLength="22.5" lengthAdjust="spacingAndGlyphs" transform="rotate(-46 703.0 397.7)" dy="7.2">20</text>
<text x="746.6" y="475.9" font-size="20" fill="#ffa81e" text-anchor="middle" textLength="22.5" lengthAdjust="spacingAndGlyphs" transform="rotate(-46 746.6 475.9)" dy="7.2">30</text>
<text x="202.0" y="787.2" font-size="12.5" fill="#8cd228" stroke="#8cd228" text-anchor="middle" transform="rotate(-66 202.0 787.2)" dy="4.4">1</text>
<text x="271.9" y="787.2" font-size="12.5" fill="#8cd228" stroke="#8cd228" text-anchor="middle" transform="rotate(-66 271.9 787.2)" dy="4.4">2</text>
<text x="315.1" y="786.9" font-size="12.5" fill="#8cd228" stroke="#8cd228" text-anchor="middle" transform="rotate(-66 315.1 786.9)" dy="4.4">3</text>
<text x="373.6" y="787.0" font-size="12.5" fill="#8cd228" stroke="#8cd228" text-anchor="middle" transform="rotate(-66 373.6 787.0)" dy="4.4">5</text>
<text x="429.0" y="787.5" font-size="12.5" fill="#8cd228" stroke="#8cd228" text-anchor="middle" transform="rotate(-66 429.0 787.5)" dy="4.4">8</text>
<text x="479.9" y="786.5" font-size="12.5" fill="#8cd228" stroke="#8cd228" text-anchor="middle" transform="rotate(-66 479.9 786.5)" dy="4.4">12</text>
<text x="546.5" y="787.5" font-size="12.5" fill="#8cd228" stroke="#8cd228" text-anchor="middle" transform="rotate(-66 546.5 787.5)" dy="4.4">20</text>
<path d="M713.2 52.6 L697.9 22.3 M713.2 93.4 L698.1 61.6 M713.2 128.6 L700.2 99.3 M700.2 99.3 L706.6 92.2 M701.7 102.6 L708.0 95.5 M703.1 105.9 L709.5 98.8 M704.6 109.2 L707.9 105.5 M713.2 162.6 L700.6 134.0 M700.6 134.0 L707.0 127.0 M702.1 137.3 L708.4 130.3 M703.5 140.6 L709.9 133.6 M705.0 143.9 L711.3 136.8 M706.4 147.2 L709.8 143.5 M713.2 192.6 L701.6 164.7 M701.6 164.7 L708.1 157.8 M703.0 168.0 L709.5 161.1 M704.4 171.3 L710.9 164.4 M705.7 174.7 L712.3 167.8 M713.2 226.0 L703.4 196.0 M703.4 196.0 L710.4 189.6 M704.5 199.4 L711.6 193.1 M705.6 202.8 L712.7 196.5 M706.8 206.3 L710.5 202.9 M713.2 265.6 L705.4 234.2 M705.4 234.2 L712.9 228.4 M706.3 237.7 L713.8 231.9 M707.1 241.2 L714.6 235.3 M708.0 244.7 L711.9 241.6 M713.2 309.5 L706.5 277.4 M706.5 277.4 L714.2 271.8 M707.2 280.9 L714.9 275.4 M708.0 284.4 L715.7 278.9 M713.2 352.6 L705.5 322.0 M705.5 322.0 L713.0 316.1 M706.4 325.5 L713.9 319.6 M707.3 329.0 L711.2 325.9 M713.2 397.2 L703.7 367.9 M703.7 367.9 L710.8 361.5 M704.8 371.3 L711.9 365.0 M705.9 374.7 L713.0 368.4 M713.2 436.3 L700.9 408.4 M700.9 408.4 L707.3 401.4 M702.4 411.7 L708.7 404.7 M703.8 415.0 L707.2 411.3 M713.2 468.8 L696.7 444.0 M696.7 444.0 L701.8 436.0 M698.7 447.0 L703.8 439.0 M700.7 450.0 L705.8 442.0 M713.2 498.1 L694.2 472.3 M694.2 472.3 L698.9 464.0 M696.3 475.2 L701.0 466.9 M698.5 478.1 L703.2 469.8 M713.2 519.8 L693.3 496.0 M693.3 496.0 L697.5 487.5 M695.6 498.8 L699.8 490.2 M697.9 501.5 L702.1 493.0 M713.2 537.2 L692.6 514.2 M692.6 514.2 L696.5 505.5 M695.0 516.9 L698.9 508.2 M697.4 519.6 L701.3 510.9 M713.2 551.2 L692.6 528.5 M692.6 528.5 L696.4 519.8 M695.0 531.2 L698.8 522.5 M697.4 533.8 L701.3 525.1 M713.2 561.6 L692.8 539.5 M692.8 539.5 L696.6 530.8 M695.2 542.1 L699.0 533.4 M697.7 544.8 L699.7 540.2 M713.2 569.0 L692.8 545.6 M692.8 545.6 L696.8 537.0 M695.2 548.4 L699.2 539.7 M713.2 576.3 L692.9 552.9 M692.9 552.9 L696.9 544.3 M695.3 555.6 L699.3 547.0 M713.2 583.3 L693.0 559.8 M693.0 559.8 L697.1 551.2 M695.3 562.5 L699.4 553.9 M713.2 589.9 L693.1 566.4 M693.1 566.4 L697.2 557.8 M695.4 569.1 L699.5 560.5 M713.2 596.3 L693.2 572.6 M693.2 572.6 L697.3 564.1 M695.5 575.4 L699.6 566.8 M713.2 602.4 L693.5 578.4 M693.5 578.4 L697.7 569.9 M695.8 581.2 L700.0 572.7 M713.2 608.2 L694.2 583.7 M694.2 583.7 L698.7 575.3 M696.4 586.5 L700.9 578.1 M713.2 613.7 L694.8 588.7 M694.8 588.7 L699.5 580.5 M697.0 591.6 L701.7 583.4 M713.2 619.0 L695.5 593.5 M695.5 593.5 L700.4 585.4 M697.5 596.5 L702.4 588.4 M713.2 624.0 L696.1 598.2 M696.1 598.2 L701.2 590.2 M698.1 601.2 L703.2 593.2 M713.2 628.9 L696.7 602.6 M696.7 602.6 L701.9 594.7 M698.6 605.7 L703.9 597.8 M713.2 633.5 L697.2 606.9 M697.2 606.9 L702.7 599.1 M699.1 610.0 L704.5 602.2 M713.2 637.9 L697.7 611.0 M697.7 611.0 L703.3 603.3 M699.5 614.1 L705.1 606.4 M713.2 642.1 L698.2 614.9 M698.2 614.9 L704.0 607.3 M700.0 618.1 L703.0 614.1 M713.2 646.1 L698.7 618.7 M698.7 618.7 L704.6 611.2 M700.4 621.8 L703.5 617.9 M713.2 649.9 L699.2 622.3 M699.2 622.3 L705.2 614.9 M700.8 625.5 L704.0 621.6 M713.2 653.6 L699.8 625.6 M699.8 625.6 L705.9 618.4 M701.3 628.9 L704.6 625.1 M713.2 657.1 L700.3 628.9 M700.3 628.9 L706.6 621.7 M701.8 632.1 L705.1 628.4 M713.2 660.4 L700.9 632.0 M700.9 632.0 L707.3 625.0 M702.3 635.3 L705.7 631.6 M713.2 663.6 L701.4 634.9 M701.4 634.9 L707.9 628.1 M702.7 638.3 L706.2 634.6 M713.2 666.8 L701.9 637.9 M701.9 637.9 L708.6 631.2 M703.2 641.3 L706.7 637.7 M713.2 670.0 L702.4 640.9 M702.4 640.9 L709.2 634.3 M703.7 644.3 L707.2 640.8 M713.2 673.2 L702.9 644.0 M702.9 644.0 L709.8 637.4 M704.1 647.4 L707.7 643.9 M713.2 676.4 L703.4 647.0 M703.4 647.0 L710.4 640.6 M704.6 650.4 L708.3 647.0 M713.2 679.6 L703.9 650.0 M703.9 650.0 L711.1 643.7 M705.0 653.5 L708.8 650.1 M713.2 682.8 L704.4 653.1 M704.4 653.1 L711.7 646.9 M705.5 656.5 L709.3 653.3 M713.2 686.0 L705.0 656.1 M705.0 656.1 L712.3 650.1 M705.9 659.6 L709.8 656.4 M713.2 689.2 L705.5 659.2 M705.5 659.2 L712.9 653.3 M706.4 662.7 L710.3 659.6 M713.2 692.4 L706.0 662.3 M706.0 662.3 L713.5 656.5 M706.8 665.8 L710.8 662.7 M713.2 695.6 L706.5 665.3 M706.5 665.3 L714.1 659.7 M707.3 668.8 L711.3 665.9 M713.2 698.8 L707.0 668.4 M707.0 668.4 L714.7 662.9 M707.7 672.0 L711.8 669.0 M713.2 702.0 L708.0 673.5 M708.0 673.5 L715.9 668.1 M708.7 677.0 L712.8 674.2 M713.2 705.2 L709.4 676.5 M709.4 676.5 L717.5 671.5 M709.8 680.0 L714.1 677.4 M713.2 708.4 L710.7 679.5 M710.7 679.5 L719.0 674.9 M711.0 683.1 L715.4 680.7 M713.2 711.6 L712.0 682.6 M712.0 682.6 L720.5 678.4 M712.2 686.2 L716.7 684.0 M713.2 714.8 L713.3 685.8 M713.3 685.8 L722.0 682.0 M713.3 689.4 L717.9 687.4 M713.2 718.0 L714.6 689.0 M714.6 689.0 L723.5 685.6 M714.4 692.6 L719.1 690.8 M713.2 721.2 L715.9 692.3 M715.9 692.3 L724.9 689.3 M715.5 695.9 L720.3 694.3 M713.2 724.4 L716.3 695.6 M716.3 695.6 L725.4 692.7 M715.9 699.1 L720.7 697.6 M713.2 732.8 L695.4 707.4 M697.6 710.5 L700.2 706.2 M713.2 737.4 L682.3 740.2 M686.1 739.9 L683.6 735.5 M713.2 741.2 L690.2 761.4 M693.1 758.9 L688.5 756.8 M713.2 742.5 L699.3 771.9 M700.9 768.5 L695.9 768.4 M713.2 744.0 L703.5 774.6 M704.6 771.0 L699.7 771.5" fill="none" stroke="#000" stroke-width="1.15"/>
<path d="M697.9 22.3 L705.5 18.5 L700.6 27.7Z M698.1 61.6 L705.8 58.0 L700.7 67.0Z" fill="#000" stroke="#000" stroke-width="0.6"/>
</svg>
</body></html>
